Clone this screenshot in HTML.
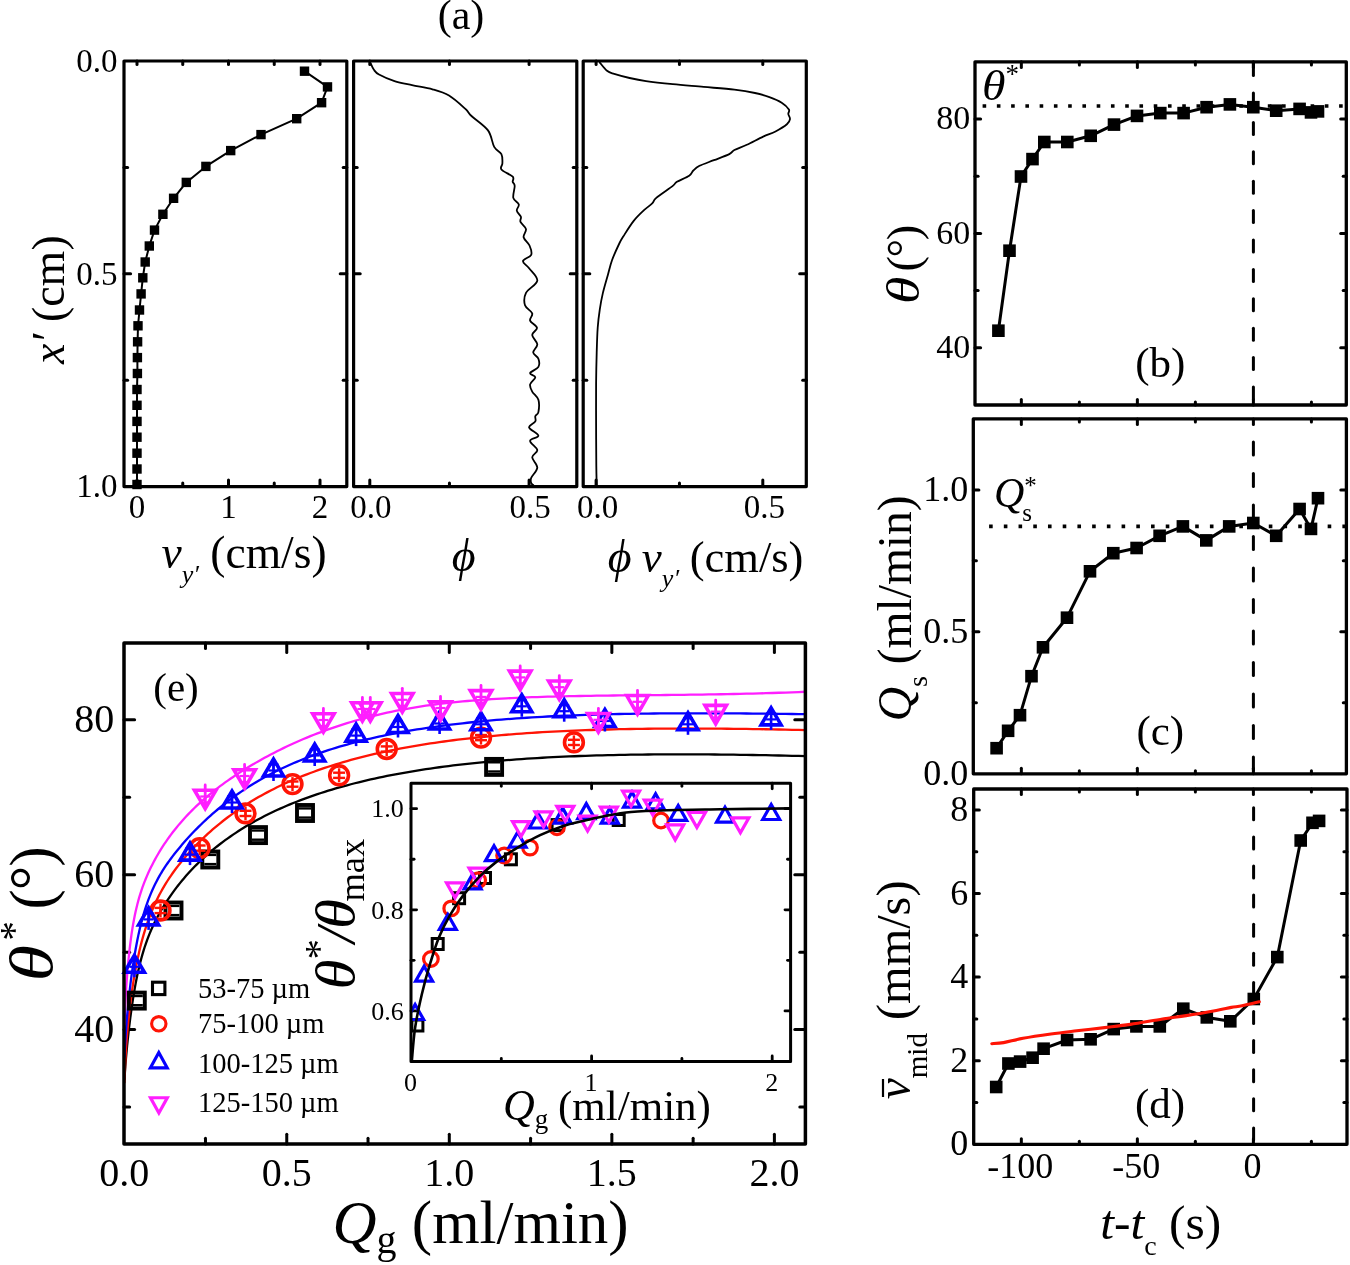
<!DOCTYPE html>
<html><head><meta charset="utf-8"><style>
html,body{margin:0;padding:0;background:#fff;width:1350px;height:1265px;overflow:hidden}
svg{display:block;will-change:transform}
text{font-family:"Liberation Serif",serif;fill:#000}
</style></head><body>
<svg width="1350" height="1265" viewBox="0 0 1350 1265" font-family="Liberation Serif">
<rect width="1350" height="1265" fill="#fff"/>
<line x1="124.00" y1="167.40" x2="127.60" y2="167.40" stroke="#000" stroke-width="3.0" stroke-linecap="round"/>
<line x1="346.80" y1="167.40" x2="343.20" y2="167.40" stroke="#000" stroke-width="3.0" stroke-linecap="round"/>
<line x1="124.00" y1="273.80" x2="130.60" y2="273.80" stroke="#000" stroke-width="3.0" stroke-linecap="round"/>
<line x1="346.80" y1="273.80" x2="340.20" y2="273.80" stroke="#000" stroke-width="3.0" stroke-linecap="round"/>
<line x1="124.00" y1="380.20" x2="127.60" y2="380.20" stroke="#000" stroke-width="3.0" stroke-linecap="round"/>
<line x1="346.80" y1="380.20" x2="343.20" y2="380.20" stroke="#000" stroke-width="3.0" stroke-linecap="round"/>
<line x1="353.60" y1="167.40" x2="357.20" y2="167.40" stroke="#000" stroke-width="3.0" stroke-linecap="round"/>
<line x1="576.80" y1="167.40" x2="573.20" y2="167.40" stroke="#000" stroke-width="3.0" stroke-linecap="round"/>
<line x1="353.60" y1="273.80" x2="360.20" y2="273.80" stroke="#000" stroke-width="3.0" stroke-linecap="round"/>
<line x1="576.80" y1="273.80" x2="570.20" y2="273.80" stroke="#000" stroke-width="3.0" stroke-linecap="round"/>
<line x1="353.60" y1="380.20" x2="357.20" y2="380.20" stroke="#000" stroke-width="3.0" stroke-linecap="round"/>
<line x1="576.80" y1="380.20" x2="573.20" y2="380.20" stroke="#000" stroke-width="3.0" stroke-linecap="round"/>
<line x1="583.20" y1="167.40" x2="586.80" y2="167.40" stroke="#000" stroke-width="3.0" stroke-linecap="round"/>
<line x1="806.30" y1="167.40" x2="802.70" y2="167.40" stroke="#000" stroke-width="3.0" stroke-linecap="round"/>
<line x1="583.20" y1="273.80" x2="589.80" y2="273.80" stroke="#000" stroke-width="3.0" stroke-linecap="round"/>
<line x1="806.30" y1="273.80" x2="799.70" y2="273.80" stroke="#000" stroke-width="3.0" stroke-linecap="round"/>
<line x1="583.20" y1="380.20" x2="586.80" y2="380.20" stroke="#000" stroke-width="3.0" stroke-linecap="round"/>
<line x1="806.30" y1="380.20" x2="802.70" y2="380.20" stroke="#000" stroke-width="3.0" stroke-linecap="round"/>
<line x1="137.00" y1="61.00" x2="137.00" y2="64.60" stroke="#000" stroke-width="3.0" stroke-linecap="round"/>
<line x1="137.00" y1="486.60" x2="137.00" y2="480.00" stroke="#000" stroke-width="3.0" stroke-linecap="round"/>
<line x1="182.75" y1="61.00" x2="182.75" y2="64.60" stroke="#000" stroke-width="3.0" stroke-linecap="round"/>
<line x1="182.75" y1="486.60" x2="182.75" y2="483.00" stroke="#000" stroke-width="3.0" stroke-linecap="round"/>
<line x1="228.50" y1="61.00" x2="228.50" y2="64.60" stroke="#000" stroke-width="3.0" stroke-linecap="round"/>
<line x1="228.50" y1="486.60" x2="228.50" y2="480.00" stroke="#000" stroke-width="3.0" stroke-linecap="round"/>
<line x1="274.25" y1="61.00" x2="274.25" y2="64.60" stroke="#000" stroke-width="3.0" stroke-linecap="round"/>
<line x1="274.25" y1="486.60" x2="274.25" y2="483.00" stroke="#000" stroke-width="3.0" stroke-linecap="round"/>
<line x1="320.00" y1="61.00" x2="320.00" y2="64.60" stroke="#000" stroke-width="3.0" stroke-linecap="round"/>
<line x1="320.00" y1="486.60" x2="320.00" y2="480.00" stroke="#000" stroke-width="3.0" stroke-linecap="round"/>
<line x1="369.80" y1="61.00" x2="369.80" y2="64.60" stroke="#000" stroke-width="3.0" stroke-linecap="round"/>
<line x1="369.80" y1="486.60" x2="369.80" y2="480.00" stroke="#000" stroke-width="3.0" stroke-linecap="round"/>
<line x1="449.45" y1="61.00" x2="449.45" y2="64.60" stroke="#000" stroke-width="3.0" stroke-linecap="round"/>
<line x1="449.45" y1="486.60" x2="449.45" y2="483.00" stroke="#000" stroke-width="3.0" stroke-linecap="round"/>
<line x1="529.10" y1="61.00" x2="529.10" y2="64.60" stroke="#000" stroke-width="3.0" stroke-linecap="round"/>
<line x1="529.10" y1="486.60" x2="529.10" y2="480.00" stroke="#000" stroke-width="3.0" stroke-linecap="round"/>
<line x1="596.10" y1="61.00" x2="596.10" y2="64.60" stroke="#000" stroke-width="3.0" stroke-linecap="round"/>
<line x1="596.10" y1="486.60" x2="596.10" y2="480.00" stroke="#000" stroke-width="3.0" stroke-linecap="round"/>
<line x1="679.45" y1="61.00" x2="679.45" y2="64.60" stroke="#000" stroke-width="3.0" stroke-linecap="round"/>
<line x1="679.45" y1="486.60" x2="679.45" y2="483.00" stroke="#000" stroke-width="3.0" stroke-linecap="round"/>
<line x1="762.80" y1="61.00" x2="762.80" y2="64.60" stroke="#000" stroke-width="3.0" stroke-linecap="round"/>
<line x1="762.80" y1="486.60" x2="762.80" y2="480.00" stroke="#000" stroke-width="3.0" stroke-linecap="round"/>
<rect x="124.00" y="61.00" width="222.80" height="425.60" fill="none" stroke="#000" stroke-width="3.2" stroke-linejoin="round"/>
<rect x="353.60" y="61.00" width="223.20" height="425.60" fill="none" stroke="#000" stroke-width="3.2" stroke-linejoin="round"/>
<rect x="583.20" y="61.00" width="223.10" height="425.60" fill="none" stroke="#000" stroke-width="3.2" stroke-linejoin="round"/>
<text x="117.50" y="71.84" font-size="33" text-anchor="end"  >0.0</text>
<text x="117.50" y="284.64" font-size="33" text-anchor="end"  >0.5</text>
<text x="117.50" y="497.44" font-size="33" text-anchor="end"  >1.0</text>
<text x="137.00" y="518.30" font-size="33" text-anchor="middle"  >0</text>
<text x="228.50" y="518.30" font-size="33" text-anchor="middle"  >1</text>
<text x="320.00" y="518.30" font-size="33" text-anchor="middle"  >2</text>
<text x="370.80" y="518.30" font-size="33" text-anchor="middle"  >0.0</text>
<text x="597.60" y="518.30" font-size="33" text-anchor="middle"  >0.0</text>
<text x="530.10" y="518.30" font-size="33" text-anchor="middle"  >0.5</text>
<text x="764.30" y="518.30" font-size="33" text-anchor="middle"  >0.5</text>
<text x="461.00" y="28.50" font-size="42" text-anchor="middle"  >(a)</text>
<text x="161.5" y="567.5" font-size="45.5"><tspan font-style="italic">v</tspan><tspan font-size="26" font-style="italic" dy="15">y′</tspan><tspan dy="-15"> (cm/s)</tspan></text>
<text x="451.8" y="570.9" font-size="46" font-style="italic">ϕ</text>
<text x="607.8" y="572" font-size="46"><tspan font-style="italic">ϕ</tspan><tspan font-size="45" font-style="italic" dx="-1"> v</tspan><tspan font-size="26" font-style="italic" dy="15">y′</tspan><tspan dy="-15" font-size="44.5" dx="-0.5"> (cm/s)</tspan></text>
<text transform="translate(64.3,299.7) rotate(-90)" font-size="46" text-anchor="middle"><tspan font-style="italic">x′</tspan> (cm)</text>
<polyline points="304.50,71.20 327.50,86.90 321.60,102.70 296.70,118.70 261.00,134.60 230.70,150.60 205.90,166.40 186.30,182.40 173.60,198.30 162.90,214.30 154.50,230.10 149.30,246.00 145.20,262.00 142.80,277.80 141.10,293.90 139.50,310.00 138.00,325.80 137.60,341.80 137.40,357.60 137.40,373.50 137.00,389.50 137.00,405.30 137.00,421.40 137.00,437.20 137.00,453.20 137.00,469.00 137.00,484.50" fill="none" stroke="#000" stroke-width="2.0" stroke-linejoin="round" stroke-linecap="round" />
<rect x="299.80" y="66.50" width="9.40" height="9.40" fill="#000"/>
<rect x="322.80" y="82.20" width="9.40" height="9.40" fill="#000"/>
<rect x="316.90" y="98.00" width="9.40" height="9.40" fill="#000"/>
<rect x="292.00" y="114.00" width="9.40" height="9.40" fill="#000"/>
<rect x="256.30" y="129.90" width="9.40" height="9.40" fill="#000"/>
<rect x="226.00" y="145.90" width="9.40" height="9.40" fill="#000"/>
<rect x="201.20" y="161.70" width="9.40" height="9.40" fill="#000"/>
<rect x="181.60" y="177.70" width="9.40" height="9.40" fill="#000"/>
<rect x="168.90" y="193.60" width="9.40" height="9.40" fill="#000"/>
<rect x="158.20" y="209.60" width="9.40" height="9.40" fill="#000"/>
<rect x="149.80" y="225.40" width="9.40" height="9.40" fill="#000"/>
<rect x="144.60" y="241.30" width="9.40" height="9.40" fill="#000"/>
<rect x="140.50" y="257.30" width="9.40" height="9.40" fill="#000"/>
<rect x="138.10" y="273.10" width="9.40" height="9.40" fill="#000"/>
<rect x="136.40" y="289.20" width="9.40" height="9.40" fill="#000"/>
<rect x="134.80" y="305.30" width="9.40" height="9.40" fill="#000"/>
<rect x="133.30" y="321.10" width="9.40" height="9.40" fill="#000"/>
<rect x="132.90" y="337.10" width="9.40" height="9.40" fill="#000"/>
<rect x="132.70" y="352.90" width="9.40" height="9.40" fill="#000"/>
<rect x="132.70" y="368.80" width="9.40" height="9.40" fill="#000"/>
<rect x="132.30" y="384.80" width="9.40" height="9.40" fill="#000"/>
<rect x="132.30" y="400.60" width="9.40" height="9.40" fill="#000"/>
<rect x="132.30" y="416.70" width="9.40" height="9.40" fill="#000"/>
<rect x="132.30" y="432.50" width="9.40" height="9.40" fill="#000"/>
<rect x="132.30" y="448.50" width="9.40" height="9.40" fill="#000"/>
<rect x="132.30" y="464.30" width="9.40" height="9.40" fill="#000"/>
<rect x="132.30" y="479.80" width="9.40" height="9.40" fill="#000"/>
<path d="M370.80,63.60 C371.32,64.63 372.53,67.98 373.90,69.80 C375.27,71.62 375.57,72.62 379.00,74.50 C382.43,76.38 389.00,79.32 394.50,81.10 C400.00,82.88 405.67,83.83 412.00,85.20 C418.33,86.57 426.33,87.58 432.50,89.30 C438.67,91.02 443.52,92.23 449.00,95.50 C454.48,98.77 461.65,105.48 465.40,108.90 C469.15,112.32 467.73,112.42 471.50,116.00 C475.27,119.58 484.22,125.25 488.00,130.40 C491.78,135.55 491.97,142.95 494.20,146.90 C496.43,150.85 500.03,151.37 501.40,154.10 C502.77,156.83 502.40,160.73 502.40,163.30 C502.40,165.87 499.68,167.27 501.40,169.50 C503.12,171.73 510.82,174.65 512.70,176.70 C514.58,178.75 512.37,180.25 512.70,181.80 C513.03,183.35 514.60,183.32 514.70,186.00 C514.80,188.68 512.62,194.83 513.30,197.90 C513.98,200.97 518.22,202.28 518.80,204.40 C519.38,206.52 516.45,208.53 516.80,210.60 C517.15,212.67 520.28,214.92 520.90,216.80 C521.52,218.68 519.65,219.85 520.50,221.90 C521.35,223.95 525.48,226.53 526.00,229.10 C526.52,231.67 523.02,234.57 523.60,237.30 C524.18,240.03 528.23,242.58 529.50,245.50 C530.77,248.42 532.28,252.22 531.20,254.80 C530.12,257.38 523.35,258.77 523.00,261.00 C522.65,263.23 526.72,264.93 529.10,268.20 C531.48,271.47 537.82,276.48 537.30,280.60 C536.78,284.72 528.05,288.80 526.00,292.90 C523.95,297.00 523.97,301.78 525.00,305.20 C526.03,308.62 531.35,310.83 532.20,313.40 C533.05,315.97 529.30,318.20 530.10,320.60 C530.90,323.00 536.65,325.40 537.00,327.80 C537.35,330.20 532.15,332.25 532.20,335.00 C532.25,337.75 537.13,341.38 537.30,344.30 C537.47,347.22 533.02,350.10 533.20,352.50 C533.38,354.90 537.53,356.30 538.40,358.70 C539.27,361.10 539.78,364.50 538.40,366.90 C537.02,369.30 530.62,371.38 530.10,373.10 C529.58,374.82 535.30,375.32 535.30,377.20 C535.30,379.08 530.62,382.00 530.10,384.40 C529.58,386.80 530.82,389.03 532.20,391.60 C533.58,394.17 537.37,396.38 538.40,399.80 C539.43,403.22 538.92,409.37 538.40,412.10 C537.88,414.83 535.82,414.65 535.30,416.20 C534.78,417.75 536.33,419.52 535.30,421.40 C534.27,423.28 528.58,425.12 529.10,427.50 C529.62,429.88 538.23,433.47 538.40,435.70 C538.57,437.93 530.28,438.50 530.10,440.90 C529.92,443.30 536.95,447.37 537.30,450.10 C537.65,452.83 532.20,454.38 532.20,457.30 C532.20,460.22 537.47,464.17 537.30,467.60 C537.13,471.03 532.22,475.33 531.20,477.90 C530.18,480.47 530.87,481.82 531.20,483.00 C531.53,484.18 532.87,484.67 533.20,485.00" fill="none" stroke="#000" stroke-width="1.8" stroke-linejoin="round" stroke-linecap="round" />
<path d="M599.80,62.60 C601.00,63.97 604.60,68.92 607.00,70.80 C609.40,72.68 610.43,72.70 614.20,73.90 C617.97,75.10 624.30,76.80 629.60,78.00 C634.90,79.20 638.80,80.07 646.00,81.10 C653.20,82.13 663.20,83.23 672.80,84.20 C682.40,85.17 693.33,85.98 703.60,86.90 C713.87,87.82 725.83,88.68 734.40,89.70 C742.97,90.72 749.17,91.77 755.00,93.00 C760.83,94.23 764.95,95.48 769.40,97.10 C773.85,98.72 778.45,100.63 781.70,102.70 C784.95,104.77 787.80,107.62 788.90,109.50 C790.00,111.38 788.12,112.40 788.30,114.00 C788.48,115.60 790.23,117.38 790.00,119.10 C789.77,120.82 789.32,122.23 786.90,124.30 C784.48,126.37 779.45,129.45 775.50,131.50 C771.55,133.55 767.98,134.38 763.20,136.60 C758.42,138.82 751.60,142.57 746.80,144.80 C742.00,147.03 737.32,148.45 734.40,150.00 C731.48,151.55 732.72,152.40 729.30,154.10 C725.88,155.80 718.87,158.25 713.90,160.20 C708.93,162.15 702.93,164.08 699.50,165.80 C696.07,167.52 695.02,168.85 693.30,170.50 C691.58,172.15 691.93,173.82 689.20,175.70 C686.47,177.58 679.63,180.10 676.90,181.80 C674.17,183.50 676.23,183.22 672.80,185.90 C669.37,188.58 659.73,194.98 656.30,197.90 C652.87,200.82 654.25,201.35 652.20,203.40 C650.15,205.45 647.08,207.28 644.00,210.20 C640.92,213.12 637.13,216.55 633.70,220.90 C630.27,225.25 625.80,232.53 623.40,236.30 C621.00,240.07 621.18,239.55 619.30,243.50 C617.42,247.45 613.98,254.85 612.10,260.00 C610.22,265.15 609.53,268.92 608.00,274.40 C606.47,279.88 604.27,287.08 602.90,292.90 C601.53,298.72 600.67,303.48 599.80,309.30 C598.93,315.12 598.22,320.60 597.70,327.80 C597.18,335.00 596.97,343.25 596.70,352.50 C596.43,361.75 596.20,371.32 596.10,383.30 C596.00,395.28 596.07,410.70 596.10,424.40 C596.13,438.10 596.20,455.40 596.30,465.50 C596.40,475.60 596.63,481.75 596.70,485.00" fill="none" stroke="#000" stroke-width="1.8" stroke-linejoin="round" stroke-linecap="round" />
<line x1="1021.34" y1="61.80" x2="1021.34" y2="67.40" stroke="#000" stroke-width="3.0" stroke-linecap="round"/>
<line x1="1021.34" y1="405.00" x2="1021.34" y2="399.40" stroke="#000" stroke-width="3.0" stroke-linecap="round"/>
<line x1="1079.36" y1="61.80" x2="1079.36" y2="64.90" stroke="#000" stroke-width="3.0" stroke-linecap="round"/>
<line x1="1079.36" y1="405.00" x2="1079.36" y2="401.90" stroke="#000" stroke-width="3.0" stroke-linecap="round"/>
<line x1="1137.37" y1="61.80" x2="1137.37" y2="67.40" stroke="#000" stroke-width="3.0" stroke-linecap="round"/>
<line x1="1137.37" y1="405.00" x2="1137.37" y2="399.40" stroke="#000" stroke-width="3.0" stroke-linecap="round"/>
<line x1="1195.38" y1="61.80" x2="1195.38" y2="64.90" stroke="#000" stroke-width="3.0" stroke-linecap="round"/>
<line x1="1195.38" y1="405.00" x2="1195.38" y2="401.90" stroke="#000" stroke-width="3.0" stroke-linecap="round"/>
<line x1="1253.40" y1="61.80" x2="1253.40" y2="67.40" stroke="#000" stroke-width="3.0" stroke-linecap="round"/>
<line x1="1253.40" y1="405.00" x2="1253.40" y2="399.40" stroke="#000" stroke-width="3.0" stroke-linecap="round"/>
<line x1="1311.42" y1="61.80" x2="1311.42" y2="64.90" stroke="#000" stroke-width="3.0" stroke-linecap="round"/>
<line x1="1311.42" y1="405.00" x2="1311.42" y2="401.90" stroke="#000" stroke-width="3.0" stroke-linecap="round"/>
<line x1="975.00" y1="347.80" x2="980.60" y2="347.80" stroke="#000" stroke-width="3.0" stroke-linecap="round"/>
<line x1="1346.30" y1="347.80" x2="1340.70" y2="347.80" stroke="#000" stroke-width="3.0" stroke-linecap="round"/>
<line x1="975.00" y1="290.60" x2="978.10" y2="290.60" stroke="#000" stroke-width="3.0" stroke-linecap="round"/>
<line x1="1346.30" y1="290.60" x2="1343.20" y2="290.60" stroke="#000" stroke-width="3.0" stroke-linecap="round"/>
<line x1="975.00" y1="233.40" x2="980.60" y2="233.40" stroke="#000" stroke-width="3.0" stroke-linecap="round"/>
<line x1="1346.30" y1="233.40" x2="1340.70" y2="233.40" stroke="#000" stroke-width="3.0" stroke-linecap="round"/>
<line x1="975.00" y1="176.20" x2="978.10" y2="176.20" stroke="#000" stroke-width="3.0" stroke-linecap="round"/>
<line x1="1346.30" y1="176.20" x2="1343.20" y2="176.20" stroke="#000" stroke-width="3.0" stroke-linecap="round"/>
<line x1="975.00" y1="119.00" x2="980.60" y2="119.00" stroke="#000" stroke-width="3.0" stroke-linecap="round"/>
<line x1="1346.30" y1="119.00" x2="1340.70" y2="119.00" stroke="#000" stroke-width="3.0" stroke-linecap="round"/>
<line x1="982.60" y1="106.0" x2="1346" y2="106.0" stroke="#000" stroke-width="3.6" stroke-dasharray="3.6 10.66"/>
<line x1="1253.4" y1="63.60" x2="1253.4" y2="75.60" stroke="#000" stroke-width="3.0" stroke-linecap="round"/>
<line x1="1253.4" y1="93.00" x2="1253.4" y2="105.00" stroke="#000" stroke-width="3.0" stroke-linecap="round"/>
<line x1="1253.4" y1="122.40" x2="1253.4" y2="134.40" stroke="#000" stroke-width="3.0" stroke-linecap="round"/>
<line x1="1253.4" y1="151.80" x2="1253.4" y2="163.80" stroke="#000" stroke-width="3.0" stroke-linecap="round"/>
<line x1="1253.4" y1="181.20" x2="1253.4" y2="193.20" stroke="#000" stroke-width="3.0" stroke-linecap="round"/>
<line x1="1253.4" y1="210.60" x2="1253.4" y2="222.60" stroke="#000" stroke-width="3.0" stroke-linecap="round"/>
<line x1="1253.4" y1="240.00" x2="1253.4" y2="252.00" stroke="#000" stroke-width="3.0" stroke-linecap="round"/>
<line x1="1253.4" y1="269.40" x2="1253.4" y2="281.40" stroke="#000" stroke-width="3.0" stroke-linecap="round"/>
<line x1="1253.4" y1="298.80" x2="1253.4" y2="310.80" stroke="#000" stroke-width="3.0" stroke-linecap="round"/>
<line x1="1253.4" y1="328.20" x2="1253.4" y2="340.20" stroke="#000" stroke-width="3.0" stroke-linecap="round"/>
<line x1="1253.4" y1="357.60" x2="1253.4" y2="369.60" stroke="#000" stroke-width="3.0" stroke-linecap="round"/>
<line x1="1253.4" y1="387.00" x2="1253.4" y2="399.00" stroke="#000" stroke-width="3.0" stroke-linecap="round"/>
<polyline points="998.40,330.70 1009.50,250.70 1021.00,176.50 1032.50,159.10 1044.30,142.00 1067.30,142.00 1090.70,135.80 1114.00,124.60 1137.00,115.90 1160.30,113.10 1183.60,113.10 1206.60,107.20 1229.90,104.40 1253.30,107.20 1276.20,110.70 1299.60,108.90 1311.00,112.40 1318.00,111.40" fill="none" stroke="#000" stroke-width="3.0" stroke-linejoin="round" stroke-linecap="round" />
<rect x="992.10" y="324.40" width="12.60" height="12.60" fill="#000"/>
<rect x="1003.20" y="244.40" width="12.60" height="12.60" fill="#000"/>
<rect x="1014.70" y="170.20" width="12.60" height="12.60" fill="#000"/>
<rect x="1026.20" y="152.80" width="12.60" height="12.60" fill="#000"/>
<rect x="1038.00" y="135.70" width="12.60" height="12.60" fill="#000"/>
<rect x="1061.00" y="135.70" width="12.60" height="12.60" fill="#000"/>
<rect x="1084.40" y="129.50" width="12.60" height="12.60" fill="#000"/>
<rect x="1107.70" y="118.30" width="12.60" height="12.60" fill="#000"/>
<rect x="1130.70" y="109.60" width="12.60" height="12.60" fill="#000"/>
<rect x="1154.00" y="106.80" width="12.60" height="12.60" fill="#000"/>
<rect x="1177.30" y="106.80" width="12.60" height="12.60" fill="#000"/>
<rect x="1200.30" y="100.90" width="12.60" height="12.60" fill="#000"/>
<rect x="1223.60" y="98.10" width="12.60" height="12.60" fill="#000"/>
<rect x="1247.00" y="100.90" width="12.60" height="12.60" fill="#000"/>
<rect x="1269.90" y="104.40" width="12.60" height="12.60" fill="#000"/>
<rect x="1293.30" y="102.60" width="12.60" height="12.60" fill="#000"/>
<rect x="1304.70" y="106.10" width="12.60" height="12.60" fill="#000"/>
<rect x="1311.70" y="105.10" width="12.60" height="12.60" fill="#000"/>
<rect x="975.00" y="61.80" width="371.30" height="343.20" fill="none" stroke="#000" stroke-width="3.3" stroke-linejoin="round"/>
<text x="970.30" y="358.28" font-size="34" text-anchor="end"  >40</text>
<text x="970.30" y="243.88" font-size="34" text-anchor="end"  >60</text>
<text x="970.30" y="129.47" font-size="34" text-anchor="end"  >80</text>
<text transform="translate(982.00,100.40) scale(1.12,1)" font-size="42.7" text-anchor="start" font-style="italic" >θ</text>
<text x="1005.50" y="83.30" font-size="27" text-anchor="start"  >*</text>
<text x="1160.30" y="376.50" font-size="43" text-anchor="middle"  >(b)</text>
<text transform="translate(918.70,303.90) rotate(-90) scale(1.2,1)" font-size="46.5" text-anchor="start" font-style="italic" >θ</text>
<text transform="translate(918.70,226.30) rotate(-90)" font-size="46.5" text-anchor="end" letter-spacing="-1.5">(°)</text>
<line x1="1021.34" y1="418.90" x2="1021.34" y2="424.50" stroke="#000" stroke-width="3.0" stroke-linecap="round"/>
<line x1="1021.34" y1="773.80" x2="1021.34" y2="768.20" stroke="#000" stroke-width="3.0" stroke-linecap="round"/>
<line x1="1079.36" y1="418.90" x2="1079.36" y2="422.00" stroke="#000" stroke-width="3.0" stroke-linecap="round"/>
<line x1="1079.36" y1="773.80" x2="1079.36" y2="770.70" stroke="#000" stroke-width="3.0" stroke-linecap="round"/>
<line x1="1137.37" y1="418.90" x2="1137.37" y2="424.50" stroke="#000" stroke-width="3.0" stroke-linecap="round"/>
<line x1="1137.37" y1="773.80" x2="1137.37" y2="768.20" stroke="#000" stroke-width="3.0" stroke-linecap="round"/>
<line x1="1195.38" y1="418.90" x2="1195.38" y2="422.00" stroke="#000" stroke-width="3.0" stroke-linecap="round"/>
<line x1="1195.38" y1="773.80" x2="1195.38" y2="770.70" stroke="#000" stroke-width="3.0" stroke-linecap="round"/>
<line x1="1253.40" y1="418.90" x2="1253.40" y2="424.50" stroke="#000" stroke-width="3.0" stroke-linecap="round"/>
<line x1="1253.40" y1="773.80" x2="1253.40" y2="768.20" stroke="#000" stroke-width="3.0" stroke-linecap="round"/>
<line x1="1311.42" y1="418.90" x2="1311.42" y2="422.00" stroke="#000" stroke-width="3.0" stroke-linecap="round"/>
<line x1="1311.42" y1="773.80" x2="1311.42" y2="770.70" stroke="#000" stroke-width="3.0" stroke-linecap="round"/>
<line x1="973.30" y1="702.82" x2="976.40" y2="702.82" stroke="#000" stroke-width="3.0" stroke-linecap="round"/>
<line x1="1346.40" y1="702.82" x2="1343.30" y2="702.82" stroke="#000" stroke-width="3.0" stroke-linecap="round"/>
<line x1="973.30" y1="631.84" x2="978.90" y2="631.84" stroke="#000" stroke-width="3.0" stroke-linecap="round"/>
<line x1="1346.40" y1="631.84" x2="1340.80" y2="631.84" stroke="#000" stroke-width="3.0" stroke-linecap="round"/>
<line x1="973.30" y1="560.86" x2="976.40" y2="560.86" stroke="#000" stroke-width="3.0" stroke-linecap="round"/>
<line x1="1346.40" y1="560.86" x2="1343.30" y2="560.86" stroke="#000" stroke-width="3.0" stroke-linecap="round"/>
<line x1="973.30" y1="489.88" x2="978.90" y2="489.88" stroke="#000" stroke-width="3.0" stroke-linecap="round"/>
<line x1="1346.40" y1="489.88" x2="1340.80" y2="489.88" stroke="#000" stroke-width="3.0" stroke-linecap="round"/>
<line x1="989.10" y1="526.4" x2="1346" y2="526.4" stroke="#000" stroke-width="3.6" stroke-dasharray="3.6 11.12"/>
<line x1="1253.4" y1="441.90" x2="1253.4" y2="454.90" stroke="#000" stroke-width="3.0" stroke-linecap="round"/>
<line x1="1253.4" y1="473.40" x2="1253.4" y2="486.40" stroke="#000" stroke-width="3.0" stroke-linecap="round"/>
<line x1="1253.4" y1="504.90" x2="1253.4" y2="517.90" stroke="#000" stroke-width="3.0" stroke-linecap="round"/>
<line x1="1253.4" y1="536.40" x2="1253.4" y2="549.40" stroke="#000" stroke-width="3.0" stroke-linecap="round"/>
<line x1="1253.4" y1="567.90" x2="1253.4" y2="580.90" stroke="#000" stroke-width="3.0" stroke-linecap="round"/>
<line x1="1253.4" y1="599.40" x2="1253.4" y2="612.40" stroke="#000" stroke-width="3.0" stroke-linecap="round"/>
<line x1="1253.4" y1="630.90" x2="1253.4" y2="643.90" stroke="#000" stroke-width="3.0" stroke-linecap="round"/>
<line x1="1253.4" y1="662.40" x2="1253.4" y2="675.40" stroke="#000" stroke-width="3.0" stroke-linecap="round"/>
<line x1="1253.4" y1="693.90" x2="1253.4" y2="706.90" stroke="#000" stroke-width="3.0" stroke-linecap="round"/>
<line x1="1253.4" y1="725.40" x2="1253.4" y2="738.40" stroke="#000" stroke-width="3.0" stroke-linecap="round"/>
<line x1="1253.4" y1="756.90" x2="1253.4" y2="769.90" stroke="#000" stroke-width="3.0" stroke-linecap="round"/>
<polyline points="996.60,748.20 1008.10,730.80 1020.00,715.20 1031.50,676.20 1043.00,647.30 1067.00,617.70 1090.00,571.30 1113.30,553.20 1136.60,548.00 1159.60,535.80 1182.90,526.40 1206.30,540.40 1229.20,526.40 1253.30,523.00 1276.20,535.80 1299.60,509.00 1311.00,528.90 1318.00,498.20" fill="none" stroke="#000" stroke-width="3.0" stroke-linejoin="round" stroke-linecap="round" />
<rect x="990.30" y="741.90" width="12.60" height="12.60" fill="#000"/>
<rect x="1001.80" y="724.50" width="12.60" height="12.60" fill="#000"/>
<rect x="1013.70" y="708.90" width="12.60" height="12.60" fill="#000"/>
<rect x="1025.20" y="669.90" width="12.60" height="12.60" fill="#000"/>
<rect x="1036.70" y="641.00" width="12.60" height="12.60" fill="#000"/>
<rect x="1060.70" y="611.40" width="12.60" height="12.60" fill="#000"/>
<rect x="1083.70" y="565.00" width="12.60" height="12.60" fill="#000"/>
<rect x="1107.00" y="546.90" width="12.60" height="12.60" fill="#000"/>
<rect x="1130.30" y="541.70" width="12.60" height="12.60" fill="#000"/>
<rect x="1153.30" y="529.50" width="12.60" height="12.60" fill="#000"/>
<rect x="1176.60" y="520.10" width="12.60" height="12.60" fill="#000"/>
<rect x="1200.00" y="534.10" width="12.60" height="12.60" fill="#000"/>
<rect x="1222.90" y="520.10" width="12.60" height="12.60" fill="#000"/>
<rect x="1247.00" y="516.70" width="12.60" height="12.60" fill="#000"/>
<rect x="1269.90" y="529.50" width="12.60" height="12.60" fill="#000"/>
<rect x="1293.30" y="502.70" width="12.60" height="12.60" fill="#000"/>
<rect x="1304.70" y="522.60" width="12.60" height="12.60" fill="#000"/>
<rect x="1311.70" y="491.90" width="12.60" height="12.60" fill="#000"/>
<rect x="973.30" y="418.90" width="373.10" height="354.90" fill="none" stroke="#000" stroke-width="3.3" stroke-linejoin="round"/>
<text x="968.30" y="784.95" font-size="36" text-anchor="end"  >0.0</text>
<text x="968.30" y="642.99" font-size="36" text-anchor="end"  >0.5</text>
<text x="968.30" y="501.03" font-size="36" text-anchor="end"  >1.0</text>
<text x="994" y="507.3" font-size="42" font-style="italic">Q</text>
<text x="1024.20" y="494.30" font-size="25" text-anchor="start"  >*</text>
<text x="1022.30" y="520.50" font-size="25" text-anchor="start"  >s</text>
<text x="1160.30" y="745.00" font-size="43" text-anchor="middle"  >(c)</text>
<text transform="translate(910.6,495.4) rotate(-90)" font-size="47.5" text-anchor="end"><tspan font-style="italic">Q</tspan><tspan font-size="28" dy="16.7">s</tspan><tspan dy="-16.7"> (ml/min)</tspan></text>
<line x1="1021.34" y1="789.00" x2="1021.34" y2="794.60" stroke="#000" stroke-width="3.0" stroke-linecap="round"/>
<line x1="1021.34" y1="1144.30" x2="1021.34" y2="1138.70" stroke="#000" stroke-width="3.0" stroke-linecap="round"/>
<line x1="1079.36" y1="789.00" x2="1079.36" y2="792.10" stroke="#000" stroke-width="3.0" stroke-linecap="round"/>
<line x1="1079.36" y1="1144.30" x2="1079.36" y2="1141.20" stroke="#000" stroke-width="3.0" stroke-linecap="round"/>
<line x1="1137.37" y1="789.00" x2="1137.37" y2="794.60" stroke="#000" stroke-width="3.0" stroke-linecap="round"/>
<line x1="1137.37" y1="1144.30" x2="1137.37" y2="1138.70" stroke="#000" stroke-width="3.0" stroke-linecap="round"/>
<line x1="1195.38" y1="789.00" x2="1195.38" y2="792.10" stroke="#000" stroke-width="3.0" stroke-linecap="round"/>
<line x1="1195.38" y1="1144.30" x2="1195.38" y2="1141.20" stroke="#000" stroke-width="3.0" stroke-linecap="round"/>
<line x1="1253.40" y1="789.00" x2="1253.40" y2="794.60" stroke="#000" stroke-width="3.0" stroke-linecap="round"/>
<line x1="1253.40" y1="1144.30" x2="1253.40" y2="1138.70" stroke="#000" stroke-width="3.0" stroke-linecap="round"/>
<line x1="1311.42" y1="789.00" x2="1311.42" y2="792.10" stroke="#000" stroke-width="3.0" stroke-linecap="round"/>
<line x1="1311.42" y1="1144.30" x2="1311.42" y2="1141.20" stroke="#000" stroke-width="3.0" stroke-linecap="round"/>
<line x1="973.70" y1="1102.50" x2="976.80" y2="1102.50" stroke="#000" stroke-width="3.0" stroke-linecap="round"/>
<line x1="1347.00" y1="1102.50" x2="1343.90" y2="1102.50" stroke="#000" stroke-width="3.0" stroke-linecap="round"/>
<line x1="973.70" y1="1060.70" x2="979.30" y2="1060.70" stroke="#000" stroke-width="3.0" stroke-linecap="round"/>
<line x1="1347.00" y1="1060.70" x2="1341.40" y2="1060.70" stroke="#000" stroke-width="3.0" stroke-linecap="round"/>
<line x1="973.70" y1="1018.90" x2="976.80" y2="1018.90" stroke="#000" stroke-width="3.0" stroke-linecap="round"/>
<line x1="1347.00" y1="1018.90" x2="1343.90" y2="1018.90" stroke="#000" stroke-width="3.0" stroke-linecap="round"/>
<line x1="973.70" y1="977.10" x2="979.30" y2="977.10" stroke="#000" stroke-width="3.0" stroke-linecap="round"/>
<line x1="1347.00" y1="977.10" x2="1341.40" y2="977.10" stroke="#000" stroke-width="3.0" stroke-linecap="round"/>
<line x1="973.70" y1="935.30" x2="976.80" y2="935.30" stroke="#000" stroke-width="3.0" stroke-linecap="round"/>
<line x1="1347.00" y1="935.30" x2="1343.90" y2="935.30" stroke="#000" stroke-width="3.0" stroke-linecap="round"/>
<line x1="973.70" y1="893.50" x2="979.30" y2="893.50" stroke="#000" stroke-width="3.0" stroke-linecap="round"/>
<line x1="1347.00" y1="893.50" x2="1341.40" y2="893.50" stroke="#000" stroke-width="3.0" stroke-linecap="round"/>
<line x1="973.70" y1="851.70" x2="976.80" y2="851.70" stroke="#000" stroke-width="3.0" stroke-linecap="round"/>
<line x1="1347.00" y1="851.70" x2="1343.90" y2="851.70" stroke="#000" stroke-width="3.0" stroke-linecap="round"/>
<line x1="973.70" y1="809.90" x2="979.30" y2="809.90" stroke="#000" stroke-width="3.0" stroke-linecap="round"/>
<line x1="1347.00" y1="809.90" x2="1341.40" y2="809.90" stroke="#000" stroke-width="3.0" stroke-linecap="round"/>
<line x1="1253.6" y1="807.80" x2="1253.6" y2="819.80" stroke="#000" stroke-width="3.0" stroke-linecap="round"/>
<line x1="1253.6" y1="836.90" x2="1253.6" y2="848.90" stroke="#000" stroke-width="3.0" stroke-linecap="round"/>
<line x1="1253.6" y1="866.00" x2="1253.6" y2="878.00" stroke="#000" stroke-width="3.0" stroke-linecap="round"/>
<line x1="1253.6" y1="895.10" x2="1253.6" y2="907.10" stroke="#000" stroke-width="3.0" stroke-linecap="round"/>
<line x1="1253.6" y1="924.20" x2="1253.6" y2="936.20" stroke="#000" stroke-width="3.0" stroke-linecap="round"/>
<line x1="1253.6" y1="953.30" x2="1253.6" y2="965.30" stroke="#000" stroke-width="3.0" stroke-linecap="round"/>
<line x1="1253.6" y1="982.40" x2="1253.6" y2="994.40" stroke="#000" stroke-width="3.0" stroke-linecap="round"/>
<line x1="1253.6" y1="1011.50" x2="1253.6" y2="1023.50" stroke="#000" stroke-width="3.0" stroke-linecap="round"/>
<line x1="1253.6" y1="1040.60" x2="1253.6" y2="1052.60" stroke="#000" stroke-width="3.0" stroke-linecap="round"/>
<line x1="1253.6" y1="1069.70" x2="1253.6" y2="1081.70" stroke="#000" stroke-width="3.0" stroke-linecap="round"/>
<line x1="1253.6" y1="1098.80" x2="1253.6" y2="1110.80" stroke="#000" stroke-width="3.0" stroke-linecap="round"/>
<line x1="1253.6" y1="1127.90" x2="1253.6" y2="1139.90" stroke="#000" stroke-width="3.0" stroke-linecap="round"/>
<polyline points="996.20,1087.00 1008.40,1063.50 1020.10,1061.60 1032.60,1057.70 1043.60,1048.70 1067.10,1040.00 1090.60,1039.30 1113.70,1029.10 1136.40,1026.40 1159.80,1026.40 1183.30,1008.70 1206.80,1017.40 1230.30,1021.30 1253.80,999.00 1277.30,957.10 1300.70,840.50 1312.50,822.80 1319.10,820.90" fill="none" stroke="#000" stroke-width="3.0" stroke-linejoin="round" stroke-linecap="round" />
<rect x="989.90" y="1080.70" width="12.60" height="12.60" fill="#000"/>
<rect x="1002.10" y="1057.20" width="12.60" height="12.60" fill="#000"/>
<rect x="1013.80" y="1055.30" width="12.60" height="12.60" fill="#000"/>
<rect x="1026.30" y="1051.40" width="12.60" height="12.60" fill="#000"/>
<rect x="1037.30" y="1042.40" width="12.60" height="12.60" fill="#000"/>
<rect x="1060.80" y="1033.70" width="12.60" height="12.60" fill="#000"/>
<rect x="1084.30" y="1033.00" width="12.60" height="12.60" fill="#000"/>
<rect x="1107.40" y="1022.80" width="12.60" height="12.60" fill="#000"/>
<rect x="1130.10" y="1020.10" width="12.60" height="12.60" fill="#000"/>
<rect x="1153.50" y="1020.10" width="12.60" height="12.60" fill="#000"/>
<rect x="1177.00" y="1002.40" width="12.60" height="12.60" fill="#000"/>
<rect x="1200.50" y="1011.10" width="12.60" height="12.60" fill="#000"/>
<rect x="1224.00" y="1015.00" width="12.60" height="12.60" fill="#000"/>
<rect x="1247.50" y="992.70" width="12.60" height="12.60" fill="#000"/>
<rect x="1271.00" y="950.80" width="12.60" height="12.60" fill="#000"/>
<rect x="1294.40" y="834.20" width="12.60" height="12.60" fill="#000"/>
<rect x="1306.20" y="816.50" width="12.60" height="12.60" fill="#000"/>
<rect x="1312.80" y="814.60" width="12.60" height="12.60" fill="#000"/>
<path d="M991.80,1043.70 C993.77,1043.52 998.40,1043.50 1003.60,1042.60 C1008.80,1041.70 1015.12,1039.73 1023.00,1038.30 C1030.88,1036.87 1041.95,1035.25 1050.90,1034.00 C1059.85,1032.75 1067.75,1031.87 1076.70,1030.80 C1085.65,1029.73 1095.65,1028.67 1104.60,1027.60 C1113.55,1026.53 1120.73,1025.83 1130.40,1024.40 C1140.07,1022.97 1153.30,1020.47 1162.60,1019.00 C1171.90,1017.53 1177.25,1017.03 1186.20,1015.60 C1195.15,1014.17 1208.78,1011.77 1216.30,1010.40 C1223.82,1009.03 1227.00,1008.17 1231.30,1007.40 C1235.60,1006.63 1237.43,1006.73 1242.10,1005.80 C1246.77,1004.87 1256.43,1002.47 1259.30,1001.80" fill="none" stroke="#ff1405" stroke-width="3.1" stroke-linejoin="round" stroke-linecap="round" />
<rect x="973.70" y="789.00" width="373.30" height="355.30" fill="none" stroke="#000" stroke-width="3.3" stroke-linejoin="round"/>
<text x="968.20" y="1155.45" font-size="36" text-anchor="end"  >0</text>
<text x="968.20" y="1071.85" font-size="36" text-anchor="end"  >2</text>
<text x="968.20" y="988.25" font-size="36" text-anchor="end"  >4</text>
<text x="968.20" y="904.65" font-size="36" text-anchor="end"  >6</text>
<text x="968.20" y="821.05" font-size="36" text-anchor="end"  >8</text>
<text x="1020.34" y="1178.10" font-size="36" text-anchor="middle"  >-100</text>
<text x="1136.37" y="1178.10" font-size="36" text-anchor="middle"  >-50</text>
<text x="1252.40" y="1178.10" font-size="36" text-anchor="middle"  >0</text>
<text x="1160.00" y="1118.00" font-size="43" text-anchor="middle"  >(d)</text>
<text x="1100.2" y="1238.6" font-size="49.5"><tspan font-style="italic">t</tspan>-<tspan font-style="italic">t</tspan><tspan font-size="28" dy="16.5">c</tspan><tspan dy="-16.5"> (s)</tspan></text>
<text transform="translate(909.8,880.5) rotate(-90)" font-size="47.5" text-anchor="end"><tspan font-style="italic">v</tspan><tspan font-size="29" dy="17.3">mid</tspan><tspan dy="-17.3" dx="1" font-size="48.3"> (mm/s)</tspan></text>
<line x1="883.00" y1="1079.00" x2="883.00" y2="1097.00" stroke="#000" stroke-width="2.2" />
<line x1="205.48" y1="643.00" x2="205.48" y2="648.60" stroke="#000" stroke-width="3.0" stroke-linecap="round"/>
<line x1="205.48" y1="1143.90" x2="205.48" y2="1138.30" stroke="#000" stroke-width="3.0" stroke-linecap="round"/>
<line x1="286.75" y1="643.00" x2="286.75" y2="652.60" stroke="#000" stroke-width="3.0" stroke-linecap="round"/>
<line x1="286.75" y1="1143.90" x2="286.75" y2="1134.30" stroke="#000" stroke-width="3.0" stroke-linecap="round"/>
<line x1="368.03" y1="643.00" x2="368.03" y2="648.60" stroke="#000" stroke-width="3.0" stroke-linecap="round"/>
<line x1="368.03" y1="1143.90" x2="368.03" y2="1138.30" stroke="#000" stroke-width="3.0" stroke-linecap="round"/>
<line x1="449.30" y1="643.00" x2="449.30" y2="652.60" stroke="#000" stroke-width="3.0" stroke-linecap="round"/>
<line x1="449.30" y1="1143.90" x2="449.30" y2="1134.30" stroke="#000" stroke-width="3.0" stroke-linecap="round"/>
<line x1="530.58" y1="643.00" x2="530.58" y2="648.60" stroke="#000" stroke-width="3.0" stroke-linecap="round"/>
<line x1="530.58" y1="1143.90" x2="530.58" y2="1138.30" stroke="#000" stroke-width="3.0" stroke-linecap="round"/>
<line x1="611.85" y1="643.00" x2="611.85" y2="652.60" stroke="#000" stroke-width="3.0" stroke-linecap="round"/>
<line x1="611.85" y1="1143.90" x2="611.85" y2="1134.30" stroke="#000" stroke-width="3.0" stroke-linecap="round"/>
<line x1="693.13" y1="643.00" x2="693.13" y2="648.60" stroke="#000" stroke-width="3.0" stroke-linecap="round"/>
<line x1="693.13" y1="1143.90" x2="693.13" y2="1138.30" stroke="#000" stroke-width="3.0" stroke-linecap="round"/>
<line x1="774.40" y1="643.00" x2="774.40" y2="652.60" stroke="#000" stroke-width="3.0" stroke-linecap="round"/>
<line x1="774.40" y1="1143.90" x2="774.40" y2="1134.30" stroke="#000" stroke-width="3.0" stroke-linecap="round"/>
<line x1="124.00" y1="1107.05" x2="129.60" y2="1107.05" stroke="#000" stroke-width="3.0" stroke-linecap="round"/>
<line x1="805.40" y1="1107.05" x2="799.80" y2="1107.05" stroke="#000" stroke-width="3.0" stroke-linecap="round"/>
<line x1="124.00" y1="1029.60" x2="134.60" y2="1029.60" stroke="#000" stroke-width="3.0" stroke-linecap="round"/>
<line x1="805.40" y1="1029.60" x2="794.80" y2="1029.60" stroke="#000" stroke-width="3.0" stroke-linecap="round"/>
<line x1="124.00" y1="952.15" x2="129.60" y2="952.15" stroke="#000" stroke-width="3.0" stroke-linecap="round"/>
<line x1="805.40" y1="952.15" x2="799.80" y2="952.15" stroke="#000" stroke-width="3.0" stroke-linecap="round"/>
<line x1="124.00" y1="874.70" x2="134.60" y2="874.70" stroke="#000" stroke-width="3.0" stroke-linecap="round"/>
<line x1="805.40" y1="874.70" x2="794.80" y2="874.70" stroke="#000" stroke-width="3.0" stroke-linecap="round"/>
<line x1="124.00" y1="797.25" x2="129.60" y2="797.25" stroke="#000" stroke-width="3.0" stroke-linecap="round"/>
<line x1="805.40" y1="797.25" x2="799.80" y2="797.25" stroke="#000" stroke-width="3.0" stroke-linecap="round"/>
<line x1="124.00" y1="719.80" x2="134.60" y2="719.80" stroke="#000" stroke-width="3.0" stroke-linecap="round"/>
<line x1="805.40" y1="719.80" x2="794.80" y2="719.80" stroke="#000" stroke-width="3.0" stroke-linecap="round"/>
<defs><clipPath id="ce"><rect x="124" y="643" width="681.4" height="500.9"/></clipPath><clipPath id="ci"><rect x="411" y="783" width="379.6" height="278.5"/></clipPath></defs>
<g clip-path="url(#ce)">
<polyline points="124.50,1079.27 124.66,1076.39 124.85,1073.27 125.07,1069.92 125.33,1066.36 125.62,1062.60 125.94,1058.66 126.29,1054.55 126.68,1050.29 127.10,1045.90 127.56,1041.39 128.04,1036.78 128.56,1032.08 129.11,1027.31 129.70,1022.49 130.32,1017.63 130.97,1012.75 131.66,1007.86 132.37,1002.98 133.12,998.13 133.91,993.32 134.72,988.57 135.57,983.89 136.46,979.30 137.37,974.81 138.32,970.45 139.30,966.22 140.32,962.13 141.36,958.17 142.44,954.33 143.56,950.61 144.70,947.01 145.88,943.51 147.10,940.12 148.34,936.82 149.62,933.61 150.93,930.48 152.28,927.44 153.65,924.47 155.06,921.56 156.51,918.72 157.98,915.93 159.49,913.20 161.03,910.51 162.61,907.86 164.22,905.25 165.86,902.66 167.53,900.10 169.24,897.56 170.98,895.05 172.75,892.56 174.56,890.09 176.40,887.66 178.27,885.24 180.17,882.85 182.11,880.49 184.08,878.15 186.08,875.83 188.12,873.54 190.19,871.27 192.29,869.03 194.43,866.82 196.60,864.62 198.80,862.45 201.03,860.31 203.30,858.19 205.60,856.09 207.94,854.02 210.30,851.98 212.70,849.95 215.13,847.95 217.60,845.98 220.10,844.03 222.63,842.10 225.19,840.20 227.79,838.32 230.42,836.47 233.08,834.64 235.78,832.84 238.51,831.05 241.27,829.30 244.07,827.56 246.89,825.85 249.75,824.17 252.65,822.51 255.58,820.87 258.54,819.25 261.53,817.66 264.55,816.10 267.61,814.55 270.71,813.03 273.83,811.54 276.99,810.07 280.18,808.62 283.40,807.19 286.66,805.79 289.95,804.40 293.27,803.05 296.63,801.71 300.02,800.40 303.44,799.10 306.89,797.83 310.38,796.58 313.90,795.36 317.45,794.15 321.04,792.97 324.66,791.81 328.31,790.66 332.00,789.54 335.72,788.44 339.47,787.36 343.25,786.31 347.07,785.27 350.92,784.25 354.80,783.25 358.72,782.27 362.67,781.31 366.65,780.37 370.67,779.45 374.71,778.55 378.79,777.67 382.91,776.81 387.06,775.97 391.24,775.14 395.45,774.34 399.69,773.55 403.97,772.78 408.29,772.03 412.63,771.29 417.01,770.58 421.42,769.88 425.86,769.20 430.34,768.54 434.85,767.89 439.39,767.26 443.97,766.65 448.58,766.06 453.22,765.48 457.89,764.92 462.60,764.37 467.34,763.84 472.11,763.33 476.92,762.83 481.76,762.35 486.63,761.89 491.54,761.44 496.48,761.00 501.45,760.58 506.45,760.18 511.49,759.79 516.56,759.42 521.66,759.06 526.80,758.71 531.97,758.38 537.17,758.06 542.41,757.76 547.67,757.47 552.98,757.20 558.31,756.93 563.68,756.69 569.08,756.45 574.51,756.23 579.98,756.02 585.48,755.83 591.01,755.64 596.57,755.47 602.17,755.31 607.80,755.17 613.46,755.04 619.16,754.91 624.89,754.80 630.65,754.71 636.45,754.62 642.28,754.54 648.14,754.48 654.04,754.43 659.96,754.39 665.92,754.36 671.92,754.34 677.94,754.33 684.00,754.33 690.10,754.34 696.22,754.36 702.38,754.39 708.57,754.43 714.80,754.48 721.05,754.54 727.34,754.61 733.67,754.69 740.02,754.78 746.41,754.88 752.83,754.98 759.29,755.10 765.78,755.22 772.30,755.35 778.85,755.49 785.44,755.64 792.06,755.80 798.71,755.96 805.40,756.13" fill="none" stroke="#000" stroke-width="2.3" stroke-linejoin="round" stroke-linecap="round" />
<polyline points="124.50,1082.40 124.66,1077.16 124.85,1071.88 125.07,1066.59 125.33,1061.27 125.62,1055.95 125.94,1050.62 126.29,1045.29 126.68,1039.97 127.10,1034.65 127.56,1029.36 128.04,1024.09 128.56,1018.85 129.11,1013.64 129.70,1008.47 130.32,1003.35 130.97,998.29 131.66,993.27 132.37,988.32 133.12,983.43 133.91,978.61 134.72,973.86 135.57,969.18 136.46,964.59 137.37,960.07 138.32,955.64 139.30,951.30 140.32,947.05 141.36,942.90 142.44,938.85 143.56,934.91 144.70,931.07 145.88,927.32 147.10,923.67 148.34,920.12 149.62,916.65 150.93,913.27 152.28,909.97 153.65,906.75 155.06,903.60 156.51,900.53 157.98,897.52 159.49,894.58 161.03,891.71 162.61,888.89 164.22,886.13 165.86,883.42 167.53,880.75 169.24,878.14 170.98,875.56 172.75,873.03 174.56,870.53 176.40,868.06 178.27,865.62 180.17,863.21 182.11,860.82 184.08,858.44 186.08,856.09 188.12,853.76 190.19,851.45 192.29,849.16 194.43,846.88 196.60,844.63 198.80,842.40 201.03,840.19 203.30,838.00 205.60,835.83 207.94,833.69 210.30,831.56 212.70,829.45 215.13,827.37 217.60,825.31 220.10,823.27 222.63,821.25 225.19,819.26 227.79,817.29 230.42,815.34 233.08,813.41 235.78,811.51 238.51,809.63 241.27,807.77 244.07,805.93 246.89,804.12 249.75,802.34 252.65,800.57 255.58,798.83 258.54,797.12 261.53,795.43 264.55,793.76 267.61,792.12 270.71,790.50 273.83,788.91 276.99,787.34 280.18,785.80 283.40,784.28 286.66,782.79 289.95,781.32 293.27,779.88 296.63,778.46 300.02,777.06 303.44,775.69 306.89,774.35 310.38,773.02 313.90,771.72 317.45,770.45 321.04,769.19 324.66,767.96 328.31,766.75 332.00,765.57 335.72,764.41 339.47,763.27 343.25,762.15 347.07,761.05 350.92,759.98 354.80,758.92 358.72,757.89 362.67,756.88 366.65,755.89 370.67,754.92 374.71,753.98 378.79,753.05 382.91,752.14 387.06,751.25 391.24,750.39 395.45,749.54 399.69,748.71 403.97,747.91 408.29,747.12 412.63,746.35 417.01,745.60 421.42,744.87 425.86,744.15 430.34,743.46 434.85,742.78 439.39,742.13 443.97,741.49 448.58,740.86 453.22,740.26 457.89,739.67 462.60,739.10 467.34,738.55 472.11,738.02 476.92,737.50 481.76,736.99 486.63,736.51 491.54,736.04 496.48,735.59 501.45,735.15 506.45,734.73 511.49,734.32 516.56,733.93 521.66,733.55 526.80,733.19 531.97,732.85 537.17,732.52 542.41,732.20 547.67,731.90 552.98,731.61 558.31,731.34 563.68,731.08 569.08,730.83 574.51,730.60 579.98,730.38 585.48,730.17 591.01,729.98 596.57,729.80 602.17,729.63 607.80,729.48 613.46,729.34 619.16,729.21 624.89,729.09 630.65,728.98 636.45,728.89 642.28,728.80 648.14,728.73 654.04,728.67 659.96,728.62 665.92,728.58 671.92,728.55 677.94,728.53 684.00,728.52 690.10,728.52 696.22,728.54 702.38,728.56 708.57,728.59 714.80,728.63 721.05,728.68 727.34,728.74 733.67,728.81 740.02,728.88 746.41,728.97 752.83,729.06 759.29,729.16 765.78,729.27 772.30,729.39 778.85,729.52 785.44,729.65 792.06,729.79 798.71,729.94 805.40,730.09" fill="none" stroke="#ff1405" stroke-width="2.3" stroke-linejoin="round" stroke-linecap="round" />
<polyline points="124.50,1056.86 124.66,1052.97 124.85,1048.89 125.07,1044.63 125.33,1040.21 125.62,1035.65 125.94,1030.96 126.29,1026.15 126.68,1021.23 127.10,1016.23 127.56,1011.16 128.04,1006.02 128.56,1000.84 129.11,995.63 129.70,990.40 130.32,985.17 130.97,979.95 131.66,974.76 132.37,969.60 133.12,964.48 133.91,959.43 134.72,954.43 135.57,949.52 136.46,944.70 137.37,939.98 138.32,935.37 139.30,930.88 140.32,926.53 141.36,922.32 142.44,918.25 143.56,914.32 144.70,910.53 145.88,906.86 147.10,903.31 148.34,899.88 149.62,896.56 150.93,893.34 152.28,890.23 153.65,887.20 155.06,884.27 156.51,881.41 157.98,878.63 159.49,875.93 161.03,873.28 162.61,870.70 164.22,868.17 165.86,865.69 167.53,863.25 169.24,860.85 170.98,858.48 172.75,856.13 174.56,853.81 176.40,851.50 178.27,849.19 180.17,846.90 182.11,844.61 184.08,842.33 186.08,840.06 188.12,837.79 190.19,835.54 192.29,833.30 194.43,831.07 196.60,828.85 198.80,826.64 201.03,824.45 203.30,822.26 205.60,820.10 207.94,817.95 210.30,815.81 212.70,813.69 215.13,811.58 217.60,809.50 220.10,807.43 222.63,805.38 225.19,803.35 227.79,801.34 230.42,799.35 233.08,797.38 235.78,795.43 238.51,793.51 241.27,791.60 244.07,789.73 246.89,787.87 249.75,786.04 252.65,784.24 255.58,782.46 258.54,780.71 261.53,778.99 264.55,777.29 267.61,775.63 270.71,773.99 273.83,772.37 276.99,770.79 280.18,769.23 283.40,767.70 286.66,766.20 289.95,764.72 293.27,763.27 296.63,761.85 300.02,760.45 303.44,759.08 306.89,757.73 310.38,756.41 313.90,755.11 317.45,753.84 321.04,752.59 324.66,751.37 328.31,750.17 332.00,749.00 335.72,747.85 339.47,746.72 343.25,745.62 347.07,744.53 350.92,743.48 354.80,742.44 358.72,741.43 362.67,740.44 366.65,739.47 370.67,738.52 374.71,737.59 378.79,736.69 382.91,735.81 387.06,734.94 391.24,734.10 395.45,733.28 399.69,732.48 403.97,731.70 408.29,730.94 412.63,730.20 417.01,729.48 421.42,728.77 425.86,728.09 430.34,727.42 434.85,726.78 439.39,726.15 443.97,725.54 448.58,724.95 453.22,724.37 457.89,723.82 462.60,723.28 467.34,722.75 472.11,722.25 476.92,721.76 481.76,721.28 486.63,720.83 491.54,720.39 496.48,719.96 501.45,719.55 506.45,719.16 511.49,718.78 516.56,718.41 521.66,718.06 526.80,717.73 531.97,717.40 537.17,717.10 542.41,716.80 547.67,716.52 552.98,716.26 558.31,716.00 563.68,715.76 569.08,715.53 574.51,715.32 579.98,715.11 585.48,714.92 591.01,714.74 596.57,714.57 602.17,714.42 607.80,714.27 613.46,714.14 619.16,714.01 624.89,713.90 630.65,713.80 636.45,713.70 642.28,713.62 648.14,713.55 654.04,713.48 659.96,713.43 665.92,713.38 671.92,713.34 677.94,713.31 684.00,713.29 690.10,713.28 696.22,713.28 702.38,713.28 708.57,713.29 714.80,713.31 721.05,713.33 727.34,713.36 733.67,713.40 740.02,713.45 746.41,713.50 752.83,713.55 759.29,713.62 765.78,713.68 772.30,713.76 778.85,713.84 785.44,713.92 792.06,714.01 798.71,714.10 805.40,714.19" fill="none" stroke="#0600ff" stroke-width="2.3" stroke-linejoin="round" stroke-linecap="round" />
<polyline points="124.50,1024.32 124.66,1019.17 124.85,1013.91 125.07,1008.55 125.33,1003.12 125.62,997.63 125.94,992.10 126.29,986.54 126.68,980.97 127.10,975.42 127.56,969.89 128.04,964.41 128.56,958.99 129.11,953.65 129.70,948.41 130.32,943.29 130.97,938.29 131.66,933.45 132.37,928.77 133.12,924.27 133.91,919.95 134.72,915.79 135.57,911.79 136.46,907.93 137.37,904.22 138.32,900.63 139.30,897.17 140.32,893.82 141.36,890.57 142.44,887.43 143.56,884.37 144.70,881.38 145.88,878.47 147.10,875.63 148.34,872.83 149.62,870.08 150.93,867.37 152.28,864.69 153.65,862.03 155.06,859.41 156.51,856.81 157.98,854.24 159.49,851.69 161.03,849.18 162.61,846.68 164.22,844.22 165.86,841.78 167.53,839.36 169.24,836.98 170.98,834.61 172.75,832.27 174.56,829.95 176.40,827.66 178.27,825.39 180.17,823.14 182.11,820.92 184.08,818.71 186.08,816.53 188.12,814.37 190.19,812.24 192.29,810.12 194.43,808.02 196.60,805.94 198.80,803.88 201.03,801.85 203.30,799.83 205.60,797.83 207.94,795.84 210.30,793.88 212.70,791.93 215.13,790.00 217.60,788.09 220.10,786.19 222.63,784.31 225.19,782.44 227.79,780.60 230.42,778.76 233.08,776.94 235.78,775.14 238.51,773.34 241.27,771.57 244.07,769.80 246.89,768.05 249.75,766.31 252.65,764.59 255.58,762.87 258.54,761.18 261.53,759.49 264.55,757.82 267.61,756.16 270.71,754.52 273.83,752.90 276.99,751.29 280.18,749.70 283.40,748.12 286.66,746.57 289.95,745.03 293.27,743.51 296.63,742.00 300.02,740.52 303.44,739.06 306.89,737.61 310.38,736.19 313.90,734.79 317.45,733.41 321.04,732.05 324.66,730.71 328.31,729.39 332.00,728.10 335.72,726.84 339.47,725.59 343.25,724.37 347.07,723.18 350.92,722.01 354.80,720.86 358.72,719.75 362.67,718.65 366.65,717.59 370.67,716.55 374.71,715.54 378.79,714.56 382.91,713.61 387.06,712.69 391.24,711.79 395.45,710.93 399.69,710.09 403.97,709.29 408.29,708.52 412.63,707.78 417.01,707.07 421.42,706.38 425.86,705.73 430.34,705.10 434.85,704.51 439.39,703.93 443.97,703.39 448.58,702.87 453.22,702.37 457.89,701.90 462.60,701.45 467.34,701.02 472.11,700.61 476.92,700.23 481.76,699.87 486.63,699.52 491.54,699.20 496.48,698.89 501.45,698.61 506.45,698.33 511.49,698.08 516.56,697.84 521.66,697.62 526.80,697.41 531.97,697.22 537.17,697.03 542.41,696.87 547.67,696.71 552.98,696.56 558.31,696.43 563.68,696.30 569.08,696.19 574.51,696.08 579.98,695.98 585.48,695.89 591.01,695.80 596.57,695.72 602.17,695.65 607.80,695.58 613.46,695.51 619.16,695.45 624.89,695.39 630.65,695.33 636.45,695.27 642.28,695.21 648.14,695.16 654.04,695.10 659.96,695.04 665.92,694.98 671.92,694.92 677.94,694.85 684.00,694.78 690.10,694.70 696.22,694.62 702.38,694.53 708.57,694.44 714.80,694.34 721.05,694.23 727.34,694.11 733.67,693.98 740.02,693.84 746.41,693.70 752.83,693.54 759.29,693.36 765.78,693.18 772.30,692.98 778.85,692.77 785.44,692.54 792.06,692.30 798.71,692.04 805.40,691.77" fill="none" stroke="#ff1eff" stroke-width="2.3" stroke-linejoin="round" stroke-linecap="round" />
</g>
<line x1="130.80" y1="996.00" x2="142.80" y2="996.00" stroke="#000" stroke-width="2.4" />
<line x1="130.80" y1="1005.20" x2="142.80" y2="1005.20" stroke="#000" stroke-width="2.4" />
<rect x="128.80" y="992.60" width="16.00" height="16.00" fill="none" stroke="#000" stroke-width="3.9"/>
<line x1="167.50" y1="905.90" x2="179.50" y2="905.90" stroke="#000" stroke-width="2.4" />
<line x1="167.50" y1="915.10" x2="179.50" y2="915.10" stroke="#000" stroke-width="2.4" />
<rect x="165.50" y="902.50" width="16.00" height="16.00" fill="none" stroke="#000" stroke-width="3.9"/>
<line x1="204.30" y1="854.90" x2="216.30" y2="854.90" stroke="#000" stroke-width="2.4" />
<line x1="204.30" y1="864.10" x2="216.30" y2="864.10" stroke="#000" stroke-width="2.4" />
<rect x="202.30" y="851.50" width="16.00" height="16.00" fill="none" stroke="#000" stroke-width="3.9"/>
<line x1="252.00" y1="830.50" x2="264.00" y2="830.50" stroke="#000" stroke-width="2.4" />
<line x1="252.00" y1="839.70" x2="264.00" y2="839.70" stroke="#000" stroke-width="2.4" />
<rect x="250.00" y="827.10" width="16.00" height="16.00" fill="none" stroke="#000" stroke-width="3.9"/>
<line x1="299.00" y1="808.40" x2="311.00" y2="808.40" stroke="#000" stroke-width="2.4" />
<line x1="299.00" y1="817.60" x2="311.00" y2="817.60" stroke="#000" stroke-width="2.4" />
<rect x="297.00" y="805.00" width="16.00" height="16.00" fill="none" stroke="#000" stroke-width="3.9"/>
<line x1="488.10" y1="762.30" x2="500.10" y2="762.30" stroke="#000" stroke-width="2.4" />
<line x1="488.10" y1="771.50" x2="500.10" y2="771.50" stroke="#000" stroke-width="2.4" />
<rect x="486.10" y="758.90" width="16.00" height="16.00" fill="none" stroke="#000" stroke-width="3.9"/>
<line x1="160.50" y1="903.50" x2="160.50" y2="917.50" stroke="#ff1405" stroke-width="2.4" />
<line x1="160.50" y1="907.90" x2="160.50" y2="913.10" stroke="#ff1405" stroke-width="2.4" />
<line x1="154.50" y1="907.90" x2="166.50" y2="907.90" stroke="#ff1405" stroke-width="2.4" />
<line x1="154.50" y1="913.10" x2="166.50" y2="913.10" stroke="#ff1405" stroke-width="2.4" />
<circle cx="160.50" cy="910.50" r="9.40" fill="none" stroke="#ff1405" stroke-width="3.6"/>
<line x1="199.60" y1="841.10" x2="199.60" y2="855.10" stroke="#ff1405" stroke-width="2.4" />
<line x1="199.60" y1="845.50" x2="199.60" y2="850.70" stroke="#ff1405" stroke-width="2.4" />
<line x1="193.60" y1="845.50" x2="205.60" y2="845.50" stroke="#ff1405" stroke-width="2.4" />
<line x1="193.60" y1="850.70" x2="205.60" y2="850.70" stroke="#ff1405" stroke-width="2.4" />
<circle cx="199.60" cy="848.10" r="9.40" fill="none" stroke="#ff1405" stroke-width="3.6"/>
<line x1="245.50" y1="806.40" x2="245.50" y2="820.40" stroke="#ff1405" stroke-width="2.4" />
<line x1="245.50" y1="810.80" x2="245.50" y2="816.00" stroke="#ff1405" stroke-width="2.4" />
<line x1="239.50" y1="810.80" x2="251.50" y2="810.80" stroke="#ff1405" stroke-width="2.4" />
<line x1="239.50" y1="816.00" x2="251.50" y2="816.00" stroke="#ff1405" stroke-width="2.4" />
<circle cx="245.50" cy="813.40" r="9.40" fill="none" stroke="#ff1405" stroke-width="3.6"/>
<line x1="292.50" y1="777.10" x2="292.50" y2="791.10" stroke="#ff1405" stroke-width="2.4" />
<line x1="292.50" y1="781.50" x2="292.50" y2="786.70" stroke="#ff1405" stroke-width="2.4" />
<line x1="286.50" y1="781.50" x2="298.50" y2="781.50" stroke="#ff1405" stroke-width="2.4" />
<line x1="286.50" y1="786.70" x2="298.50" y2="786.70" stroke="#ff1405" stroke-width="2.4" />
<circle cx="292.50" cy="784.10" r="9.40" fill="none" stroke="#ff1405" stroke-width="3.6"/>
<line x1="339.10" y1="768.30" x2="339.10" y2="782.30" stroke="#ff1405" stroke-width="2.4" />
<line x1="339.10" y1="772.70" x2="339.10" y2="777.90" stroke="#ff1405" stroke-width="2.4" />
<line x1="333.10" y1="772.70" x2="345.10" y2="772.70" stroke="#ff1405" stroke-width="2.4" />
<line x1="333.10" y1="777.90" x2="345.10" y2="777.90" stroke="#ff1405" stroke-width="2.4" />
<circle cx="339.10" cy="775.30" r="9.40" fill="none" stroke="#ff1405" stroke-width="3.6"/>
<line x1="386.70" y1="742.00" x2="386.70" y2="756.00" stroke="#ff1405" stroke-width="2.4" />
<line x1="386.70" y1="746.40" x2="386.70" y2="751.60" stroke="#ff1405" stroke-width="2.4" />
<line x1="380.70" y1="746.40" x2="392.70" y2="746.40" stroke="#ff1405" stroke-width="2.4" />
<line x1="380.70" y1="751.60" x2="392.70" y2="751.60" stroke="#ff1405" stroke-width="2.4" />
<circle cx="386.70" cy="749.00" r="9.40" fill="none" stroke="#ff1405" stroke-width="3.6"/>
<line x1="481.00" y1="730.60" x2="481.00" y2="744.60" stroke="#ff1405" stroke-width="2.4" />
<line x1="481.00" y1="735.00" x2="481.00" y2="740.20" stroke="#ff1405" stroke-width="2.4" />
<line x1="475.00" y1="735.00" x2="487.00" y2="735.00" stroke="#ff1405" stroke-width="2.4" />
<line x1="475.00" y1="740.20" x2="487.00" y2="740.20" stroke="#ff1405" stroke-width="2.4" />
<circle cx="481.00" cy="737.60" r="9.40" fill="none" stroke="#ff1405" stroke-width="3.6"/>
<line x1="573.90" y1="735.40" x2="573.90" y2="749.40" stroke="#ff1405" stroke-width="2.4" />
<line x1="573.90" y1="739.80" x2="573.90" y2="745.00" stroke="#ff1405" stroke-width="2.4" />
<line x1="567.90" y1="739.80" x2="579.90" y2="739.80" stroke="#ff1405" stroke-width="2.4" />
<line x1="567.90" y1="745.00" x2="579.90" y2="745.00" stroke="#ff1405" stroke-width="2.4" />
<circle cx="573.90" cy="742.40" r="9.40" fill="none" stroke="#ff1405" stroke-width="3.6"/>
<line x1="134.40" y1="955.80" x2="134.40" y2="977.30" stroke="#0600ff" stroke-width="2.6" />
<line x1="134.40" y1="960.80" x2="134.40" y2="966.80" stroke="#0600ff" stroke-width="2.2" />
<line x1="129.40" y1="960.80" x2="139.40" y2="960.80" stroke="#0600ff" stroke-width="2.2" />
<line x1="129.40" y1="966.80" x2="139.40" y2="966.80" stroke="#0600ff" stroke-width="2.2" />
<polygon points="124.40,972.30 144.40,972.30 134.40,955.30" fill="none" stroke="#0600ff" stroke-width="3.6" stroke-linejoin="miter"/>
<line x1="148.60" y1="908.40" x2="148.60" y2="929.90" stroke="#0600ff" stroke-width="2.6" />
<line x1="148.60" y1="913.40" x2="148.60" y2="919.40" stroke="#0600ff" stroke-width="2.2" />
<line x1="143.60" y1="913.40" x2="153.60" y2="913.40" stroke="#0600ff" stroke-width="2.2" />
<line x1="143.60" y1="919.40" x2="153.60" y2="919.40" stroke="#0600ff" stroke-width="2.2" />
<polygon points="138.60,924.90 158.60,924.90 148.60,907.90" fill="none" stroke="#0600ff" stroke-width="3.6" stroke-linejoin="miter"/>
<line x1="190.00" y1="843.60" x2="190.00" y2="865.10" stroke="#0600ff" stroke-width="2.6" />
<line x1="190.00" y1="848.60" x2="190.00" y2="854.60" stroke="#0600ff" stroke-width="2.2" />
<line x1="185.00" y1="848.60" x2="195.00" y2="848.60" stroke="#0600ff" stroke-width="2.2" />
<line x1="185.00" y1="854.60" x2="195.00" y2="854.60" stroke="#0600ff" stroke-width="2.2" />
<polygon points="180.00,860.10 200.00,860.10 190.00,843.10" fill="none" stroke="#0600ff" stroke-width="3.6" stroke-linejoin="miter"/>
<line x1="232.00" y1="791.50" x2="232.00" y2="813.00" stroke="#0600ff" stroke-width="2.6" />
<line x1="232.00" y1="796.50" x2="232.00" y2="802.50" stroke="#0600ff" stroke-width="2.2" />
<line x1="227.00" y1="796.50" x2="237.00" y2="796.50" stroke="#0600ff" stroke-width="2.2" />
<line x1="227.00" y1="802.50" x2="237.00" y2="802.50" stroke="#0600ff" stroke-width="2.2" />
<polygon points="222.00,808.00 242.00,808.00 232.00,791.00" fill="none" stroke="#0600ff" stroke-width="3.6" stroke-linejoin="miter"/>
<line x1="273.50" y1="759.50" x2="273.50" y2="781.00" stroke="#0600ff" stroke-width="2.6" />
<line x1="273.50" y1="764.50" x2="273.50" y2="770.50" stroke="#0600ff" stroke-width="2.2" />
<line x1="268.50" y1="764.50" x2="278.50" y2="764.50" stroke="#0600ff" stroke-width="2.2" />
<line x1="268.50" y1="770.50" x2="278.50" y2="770.50" stroke="#0600ff" stroke-width="2.2" />
<polygon points="263.50,776.00 283.50,776.00 273.50,759.00" fill="none" stroke="#0600ff" stroke-width="3.6" stroke-linejoin="miter"/>
<line x1="314.70" y1="744.50" x2="314.70" y2="766.00" stroke="#0600ff" stroke-width="2.6" />
<line x1="314.70" y1="749.50" x2="314.70" y2="755.50" stroke="#0600ff" stroke-width="2.2" />
<line x1="309.70" y1="749.50" x2="319.70" y2="749.50" stroke="#0600ff" stroke-width="2.2" />
<line x1="309.70" y1="755.50" x2="319.70" y2="755.50" stroke="#0600ff" stroke-width="2.2" />
<polygon points="304.70,761.00 324.70,761.00 314.70,744.00" fill="none" stroke="#0600ff" stroke-width="3.6" stroke-linejoin="miter"/>
<line x1="356.10" y1="724.60" x2="356.10" y2="746.10" stroke="#0600ff" stroke-width="2.6" />
<line x1="356.10" y1="729.60" x2="356.10" y2="735.60" stroke="#0600ff" stroke-width="2.2" />
<line x1="351.10" y1="729.60" x2="361.10" y2="729.60" stroke="#0600ff" stroke-width="2.2" />
<line x1="351.10" y1="735.60" x2="361.10" y2="735.60" stroke="#0600ff" stroke-width="2.2" />
<polygon points="346.10,741.10 366.10,741.10 356.10,724.10" fill="none" stroke="#0600ff" stroke-width="3.6" stroke-linejoin="miter"/>
<line x1="398.00" y1="716.00" x2="398.00" y2="737.50" stroke="#0600ff" stroke-width="2.6" />
<line x1="398.00" y1="721.00" x2="398.00" y2="727.00" stroke="#0600ff" stroke-width="2.2" />
<line x1="393.00" y1="721.00" x2="403.00" y2="721.00" stroke="#0600ff" stroke-width="2.2" />
<line x1="393.00" y1="727.00" x2="403.00" y2="727.00" stroke="#0600ff" stroke-width="2.2" />
<polygon points="388.00,732.50 408.00,732.50 398.00,715.50" fill="none" stroke="#0600ff" stroke-width="3.6" stroke-linejoin="miter"/>
<line x1="439.60" y1="712.50" x2="439.60" y2="734.00" stroke="#0600ff" stroke-width="2.6" />
<line x1="439.60" y1="717.50" x2="439.60" y2="723.50" stroke="#0600ff" stroke-width="2.2" />
<line x1="434.60" y1="717.50" x2="444.60" y2="717.50" stroke="#0600ff" stroke-width="2.2" />
<line x1="434.60" y1="723.50" x2="444.60" y2="723.50" stroke="#0600ff" stroke-width="2.2" />
<polygon points="429.60,729.00 449.60,729.00 439.60,712.00" fill="none" stroke="#0600ff" stroke-width="3.6" stroke-linejoin="miter"/>
<line x1="481.00" y1="713.30" x2="481.00" y2="734.80" stroke="#0600ff" stroke-width="2.6" />
<line x1="481.00" y1="718.30" x2="481.00" y2="724.30" stroke="#0600ff" stroke-width="2.2" />
<line x1="476.00" y1="718.30" x2="486.00" y2="718.30" stroke="#0600ff" stroke-width="2.2" />
<line x1="476.00" y1="724.30" x2="486.00" y2="724.30" stroke="#0600ff" stroke-width="2.2" />
<polygon points="471.00,729.80 491.00,729.80 481.00,712.80" fill="none" stroke="#0600ff" stroke-width="3.6" stroke-linejoin="miter"/>
<line x1="521.80" y1="695.30" x2="521.80" y2="716.80" stroke="#0600ff" stroke-width="2.6" />
<line x1="521.80" y1="700.30" x2="521.80" y2="706.30" stroke="#0600ff" stroke-width="2.2" />
<line x1="516.80" y1="700.30" x2="526.80" y2="700.30" stroke="#0600ff" stroke-width="2.2" />
<line x1="516.80" y1="706.30" x2="526.80" y2="706.30" stroke="#0600ff" stroke-width="2.2" />
<polygon points="511.80,711.80 531.80,711.80 521.80,694.80" fill="none" stroke="#0600ff" stroke-width="3.6" stroke-linejoin="miter"/>
<line x1="564.20" y1="700.20" x2="564.20" y2="721.70" stroke="#0600ff" stroke-width="2.6" />
<line x1="564.20" y1="705.20" x2="564.20" y2="711.20" stroke="#0600ff" stroke-width="2.2" />
<line x1="559.20" y1="705.20" x2="569.20" y2="705.20" stroke="#0600ff" stroke-width="2.2" />
<line x1="559.20" y1="711.20" x2="569.20" y2="711.20" stroke="#0600ff" stroke-width="2.2" />
<polygon points="554.20,716.70 574.20,716.70 564.20,699.70" fill="none" stroke="#0600ff" stroke-width="3.6" stroke-linejoin="miter"/>
<line x1="604.90" y1="710.00" x2="604.90" y2="731.50" stroke="#0600ff" stroke-width="2.6" />
<line x1="604.90" y1="715.00" x2="604.90" y2="721.00" stroke="#0600ff" stroke-width="2.2" />
<line x1="599.90" y1="715.00" x2="609.90" y2="715.00" stroke="#0600ff" stroke-width="2.2" />
<line x1="599.90" y1="721.00" x2="609.90" y2="721.00" stroke="#0600ff" stroke-width="2.2" />
<polygon points="594.90,726.50 614.90,726.50 604.90,709.50" fill="none" stroke="#0600ff" stroke-width="3.6" stroke-linejoin="miter"/>
<line x1="688.00" y1="713.30" x2="688.00" y2="734.80" stroke="#0600ff" stroke-width="2.6" />
<line x1="688.00" y1="718.30" x2="688.00" y2="724.30" stroke="#0600ff" stroke-width="2.2" />
<line x1="683.00" y1="718.30" x2="693.00" y2="718.30" stroke="#0600ff" stroke-width="2.2" />
<line x1="683.00" y1="724.30" x2="693.00" y2="724.30" stroke="#0600ff" stroke-width="2.2" />
<polygon points="678.00,729.80 698.00,729.80 688.00,712.80" fill="none" stroke="#0600ff" stroke-width="3.6" stroke-linejoin="miter"/>
<line x1="771.10" y1="708.40" x2="771.10" y2="729.90" stroke="#0600ff" stroke-width="2.6" />
<line x1="771.10" y1="713.40" x2="771.10" y2="719.40" stroke="#0600ff" stroke-width="2.2" />
<line x1="766.10" y1="713.40" x2="776.10" y2="713.40" stroke="#0600ff" stroke-width="2.2" />
<line x1="766.10" y1="719.40" x2="776.10" y2="719.40" stroke="#0600ff" stroke-width="2.2" />
<polygon points="761.10,724.90 781.10,724.90 771.10,707.90" fill="none" stroke="#0600ff" stroke-width="3.6" stroke-linejoin="miter"/>
<line x1="205.20" y1="785.00" x2="205.20" y2="807.50" stroke="#ff1eff" stroke-width="2.8" stroke-linecap="round"/>
<line x1="205.20" y1="796.50" x2="205.20" y2="802.50" stroke="#ff1eff" stroke-width="2.2" />
<line x1="200.20" y1="796.50" x2="210.20" y2="796.50" stroke="#ff1eff" stroke-width="2.2" />
<line x1="200.20" y1="802.50" x2="210.20" y2="802.50" stroke="#ff1eff" stroke-width="2.2" />
<polygon points="194.45,790.25 215.95,790.25 205.20,808.75" fill="none" stroke="#ff1eff" stroke-width="3.6" stroke-linejoin="miter"/>
<line x1="244.60" y1="764.50" x2="244.60" y2="787.00" stroke="#ff1eff" stroke-width="2.8" stroke-linecap="round"/>
<line x1="244.60" y1="776.00" x2="244.60" y2="782.00" stroke="#ff1eff" stroke-width="2.2" />
<line x1="239.60" y1="776.00" x2="249.60" y2="776.00" stroke="#ff1eff" stroke-width="2.2" />
<line x1="239.60" y1="782.00" x2="249.60" y2="782.00" stroke="#ff1eff" stroke-width="2.2" />
<polygon points="233.85,769.75 255.35,769.75 244.60,788.25" fill="none" stroke="#ff1eff" stroke-width="3.6" stroke-linejoin="miter"/>
<line x1="323.40" y1="708.50" x2="323.40" y2="731.00" stroke="#ff1eff" stroke-width="2.8" stroke-linecap="round"/>
<line x1="323.40" y1="720.00" x2="323.40" y2="726.00" stroke="#ff1eff" stroke-width="2.2" />
<line x1="318.40" y1="720.00" x2="328.40" y2="720.00" stroke="#ff1eff" stroke-width="2.2" />
<line x1="318.40" y1="726.00" x2="328.40" y2="726.00" stroke="#ff1eff" stroke-width="2.2" />
<polygon points="312.65,713.75 334.15,713.75 323.40,732.25" fill="none" stroke="#ff1eff" stroke-width="3.6" stroke-linejoin="miter"/>
<line x1="362.40" y1="697.50" x2="362.40" y2="720.00" stroke="#ff1eff" stroke-width="2.8" stroke-linecap="round"/>
<line x1="362.40" y1="709.00" x2="362.40" y2="715.00" stroke="#ff1eff" stroke-width="2.2" />
<line x1="357.40" y1="709.00" x2="367.40" y2="709.00" stroke="#ff1eff" stroke-width="2.2" />
<line x1="357.40" y1="715.00" x2="367.40" y2="715.00" stroke="#ff1eff" stroke-width="2.2" />
<polygon points="351.65,702.75 373.15,702.75 362.40,721.25" fill="none" stroke="#ff1eff" stroke-width="3.6" stroke-linejoin="miter"/>
<line x1="370.30" y1="697.50" x2="370.30" y2="720.00" stroke="#ff1eff" stroke-width="2.8" stroke-linecap="round"/>
<line x1="370.30" y1="709.00" x2="370.30" y2="715.00" stroke="#ff1eff" stroke-width="2.2" />
<line x1="365.30" y1="709.00" x2="375.30" y2="709.00" stroke="#ff1eff" stroke-width="2.2" />
<line x1="365.30" y1="715.00" x2="375.30" y2="715.00" stroke="#ff1eff" stroke-width="2.2" />
<polygon points="359.55,702.75 381.05,702.75 370.30,721.25" fill="none" stroke="#ff1eff" stroke-width="3.6" stroke-linejoin="miter"/>
<line x1="402.30" y1="688.30" x2="402.30" y2="710.80" stroke="#ff1eff" stroke-width="2.8" stroke-linecap="round"/>
<line x1="402.30" y1="699.80" x2="402.30" y2="705.80" stroke="#ff1eff" stroke-width="2.2" />
<line x1="397.30" y1="699.80" x2="407.30" y2="699.80" stroke="#ff1eff" stroke-width="2.2" />
<line x1="397.30" y1="705.80" x2="407.30" y2="705.80" stroke="#ff1eff" stroke-width="2.2" />
<polygon points="391.55,693.55 413.05,693.55 402.30,712.05" fill="none" stroke="#ff1eff" stroke-width="3.6" stroke-linejoin="miter"/>
<line x1="440.50" y1="696.50" x2="440.50" y2="719.00" stroke="#ff1eff" stroke-width="2.8" stroke-linecap="round"/>
<line x1="440.50" y1="708.00" x2="440.50" y2="714.00" stroke="#ff1eff" stroke-width="2.2" />
<line x1="435.50" y1="708.00" x2="445.50" y2="708.00" stroke="#ff1eff" stroke-width="2.2" />
<line x1="435.50" y1="714.00" x2="445.50" y2="714.00" stroke="#ff1eff" stroke-width="2.2" />
<polygon points="429.75,701.75 451.25,701.75 440.50,720.25" fill="none" stroke="#ff1eff" stroke-width="3.6" stroke-linejoin="miter"/>
<line x1="481.00" y1="685.40" x2="481.00" y2="707.90" stroke="#ff1eff" stroke-width="2.8" stroke-linecap="round"/>
<line x1="481.00" y1="696.90" x2="481.00" y2="702.90" stroke="#ff1eff" stroke-width="2.2" />
<line x1="476.00" y1="696.90" x2="486.00" y2="696.90" stroke="#ff1eff" stroke-width="2.2" />
<line x1="476.00" y1="702.90" x2="486.00" y2="702.90" stroke="#ff1eff" stroke-width="2.2" />
<polygon points="470.25,690.65 491.75,690.65 481.00,709.15" fill="none" stroke="#ff1eff" stroke-width="3.6" stroke-linejoin="miter"/>
<line x1="520.20" y1="665.90" x2="520.20" y2="688.40" stroke="#ff1eff" stroke-width="2.8" stroke-linecap="round"/>
<line x1="520.20" y1="677.40" x2="520.20" y2="683.40" stroke="#ff1eff" stroke-width="2.2" />
<line x1="515.20" y1="677.40" x2="525.20" y2="677.40" stroke="#ff1eff" stroke-width="2.2" />
<line x1="515.20" y1="683.40" x2="525.20" y2="683.40" stroke="#ff1eff" stroke-width="2.2" />
<polygon points="509.45,671.15 530.95,671.15 520.20,689.65" fill="none" stroke="#ff1eff" stroke-width="3.6" stroke-linejoin="miter"/>
<line x1="559.30" y1="675.70" x2="559.30" y2="698.20" stroke="#ff1eff" stroke-width="2.8" stroke-linecap="round"/>
<line x1="559.30" y1="687.20" x2="559.30" y2="693.20" stroke="#ff1eff" stroke-width="2.2" />
<line x1="554.30" y1="687.20" x2="564.30" y2="687.20" stroke="#ff1eff" stroke-width="2.2" />
<line x1="554.30" y1="693.20" x2="564.30" y2="693.20" stroke="#ff1eff" stroke-width="2.2" />
<polygon points="548.55,680.95 570.05,680.95 559.30,699.45" fill="none" stroke="#ff1eff" stroke-width="3.6" stroke-linejoin="miter"/>
<line x1="598.40" y1="708.30" x2="598.40" y2="730.80" stroke="#ff1eff" stroke-width="2.8" stroke-linecap="round"/>
<line x1="598.40" y1="719.80" x2="598.40" y2="725.80" stroke="#ff1eff" stroke-width="2.2" />
<line x1="593.40" y1="719.80" x2="603.40" y2="719.80" stroke="#ff1eff" stroke-width="2.2" />
<line x1="593.40" y1="725.80" x2="603.40" y2="725.80" stroke="#ff1eff" stroke-width="2.2" />
<polygon points="587.65,713.55 609.15,713.55 598.40,732.05" fill="none" stroke="#ff1eff" stroke-width="3.6" stroke-linejoin="miter"/>
<line x1="637.50" y1="690.30" x2="637.50" y2="712.80" stroke="#ff1eff" stroke-width="2.8" stroke-linecap="round"/>
<line x1="637.50" y1="701.80" x2="637.50" y2="707.80" stroke="#ff1eff" stroke-width="2.2" />
<line x1="632.50" y1="701.80" x2="642.50" y2="701.80" stroke="#ff1eff" stroke-width="2.2" />
<line x1="632.50" y1="707.80" x2="642.50" y2="707.80" stroke="#ff1eff" stroke-width="2.2" />
<polygon points="626.75,695.55 648.25,695.55 637.50,714.05" fill="none" stroke="#ff1eff" stroke-width="3.6" stroke-linejoin="miter"/>
<line x1="715.70" y1="700.10" x2="715.70" y2="722.60" stroke="#ff1eff" stroke-width="2.8" stroke-linecap="round"/>
<line x1="715.70" y1="711.60" x2="715.70" y2="717.60" stroke="#ff1eff" stroke-width="2.2" />
<line x1="710.70" y1="711.60" x2="720.70" y2="711.60" stroke="#ff1eff" stroke-width="2.2" />
<line x1="710.70" y1="717.60" x2="720.70" y2="717.60" stroke="#ff1eff" stroke-width="2.2" />
<polygon points="704.95,705.35 726.45,705.35 715.70,723.85" fill="none" stroke="#ff1eff" stroke-width="3.6" stroke-linejoin="miter"/>
<rect x="411.0" y="783.2" width="379.6" height="278.29999999999995" fill="#fff"/>
<line x1="501.30" y1="783.20" x2="501.30" y2="786.30" stroke="#000" stroke-width="2.8" stroke-linecap="round"/>
<line x1="501.30" y1="1061.50" x2="501.30" y2="1058.40" stroke="#000" stroke-width="2.8" stroke-linecap="round"/>
<line x1="591.60" y1="783.20" x2="591.60" y2="788.80" stroke="#000" stroke-width="2.8" stroke-linecap="round"/>
<line x1="591.60" y1="1061.50" x2="591.60" y2="1055.90" stroke="#000" stroke-width="2.8" stroke-linecap="round"/>
<line x1="681.90" y1="783.20" x2="681.90" y2="786.30" stroke="#000" stroke-width="2.8" stroke-linecap="round"/>
<line x1="681.90" y1="1061.50" x2="681.90" y2="1058.40" stroke="#000" stroke-width="2.8" stroke-linecap="round"/>
<line x1="772.20" y1="783.20" x2="772.20" y2="788.80" stroke="#000" stroke-width="2.8" stroke-linecap="round"/>
<line x1="772.20" y1="1061.50" x2="772.20" y2="1055.90" stroke="#000" stroke-width="2.8" stroke-linecap="round"/>
<line x1="411.00" y1="1010.90" x2="416.60" y2="1010.90" stroke="#000" stroke-width="2.8" stroke-linecap="round"/>
<line x1="790.60" y1="1010.90" x2="785.00" y2="1010.90" stroke="#000" stroke-width="2.8" stroke-linecap="round"/>
<line x1="411.00" y1="960.35" x2="414.10" y2="960.35" stroke="#000" stroke-width="2.8" stroke-linecap="round"/>
<line x1="790.60" y1="960.35" x2="787.50" y2="960.35" stroke="#000" stroke-width="2.8" stroke-linecap="round"/>
<line x1="411.00" y1="909.80" x2="416.60" y2="909.80" stroke="#000" stroke-width="2.8" stroke-linecap="round"/>
<line x1="790.60" y1="909.80" x2="785.00" y2="909.80" stroke="#000" stroke-width="2.8" stroke-linecap="round"/>
<line x1="411.00" y1="859.25" x2="414.10" y2="859.25" stroke="#000" stroke-width="2.8" stroke-linecap="round"/>
<line x1="790.60" y1="859.25" x2="787.50" y2="859.25" stroke="#000" stroke-width="2.8" stroke-linecap="round"/>
<line x1="411.00" y1="808.70" x2="416.60" y2="808.70" stroke="#000" stroke-width="2.8" stroke-linecap="round"/>
<line x1="790.60" y1="808.70" x2="785.00" y2="808.70" stroke="#000" stroke-width="2.8" stroke-linecap="round"/>
<g clip-path="url(#ci)">
<rect x="411.90" y="1020.00" width="11.00" height="11.00" fill="none" stroke="#000" stroke-width="3.0"/>
<rect x="432.20" y="938.50" width="11.00" height="11.00" fill="none" stroke="#000" stroke-width="3.0"/>
<rect x="453.60" y="892.70" width="11.00" height="11.00" fill="none" stroke="#000" stroke-width="3.0"/>
<rect x="479.50" y="872.50" width="11.00" height="11.00" fill="none" stroke="#000" stroke-width="3.0"/>
<rect x="505.40" y="853.80" width="11.00" height="11.00" fill="none" stroke="#000" stroke-width="3.0"/>
<rect x="552.10" y="819.60" width="11.00" height="11.00" fill="none" stroke="#000" stroke-width="3.0"/>
<rect x="613.20" y="814.50" width="11.00" height="11.00" fill="none" stroke="#000" stroke-width="3.0"/>
<circle cx="430.90" cy="959.00" r="7.30" fill="none" stroke="#ff1405" stroke-width="3.2"/>
<circle cx="451.20" cy="908.40" r="7.30" fill="none" stroke="#ff1405" stroke-width="3.2"/>
<circle cx="478.20" cy="880.20" r="7.30" fill="none" stroke="#ff1405" stroke-width="3.2"/>
<circle cx="504.10" cy="855.50" r="7.30" fill="none" stroke="#ff1405" stroke-width="3.2"/>
<circle cx="530.00" cy="847.60" r="7.30" fill="none" stroke="#ff1405" stroke-width="3.2"/>
<circle cx="557.00" cy="827.30" r="7.30" fill="none" stroke="#ff1405" stroke-width="3.2"/>
<circle cx="661.00" cy="820.50" r="7.30" fill="none" stroke="#ff1405" stroke-width="3.2"/>
<polygon points="406.60,1019.50 423.60,1019.50 415.10,1004.50" fill="none" stroke="#0600ff" stroke-width="3.2" stroke-linejoin="miter"/>
<polygon points="415.60,981.20 432.60,981.20 424.10,966.20" fill="none" stroke="#0600ff" stroke-width="3.2" stroke-linejoin="miter"/>
<polygon points="439.30,929.40 456.30,929.40 447.80,914.40" fill="none" stroke="#0600ff" stroke-width="3.2" stroke-linejoin="miter"/>
<polygon points="464.10,888.90 481.10,888.90 472.60,873.90" fill="none" stroke="#0600ff" stroke-width="3.2" stroke-linejoin="miter"/>
<polygon points="485.50,860.70 502.50,860.70 494.00,845.70" fill="none" stroke="#0600ff" stroke-width="3.2" stroke-linejoin="miter"/>
<polygon points="509.10,847.20 526.10,847.20 517.60,832.20" fill="none" stroke="#0600ff" stroke-width="3.2" stroke-linejoin="miter"/>
<polygon points="529.40,828.00 546.40,828.00 537.90,813.00" fill="none" stroke="#0600ff" stroke-width="3.2" stroke-linejoin="miter"/>
<polygon points="554.20,823.10 571.20,823.10 562.70,808.10" fill="none" stroke="#0600ff" stroke-width="3.2" stroke-linejoin="miter"/>
<polygon points="577.80,818.60 594.80,818.60 586.30,803.60" fill="none" stroke="#0600ff" stroke-width="3.2" stroke-linejoin="miter"/>
<polygon points="601.30,823.10 618.30,823.10 609.80,808.10" fill="none" stroke="#0600ff" stroke-width="3.2" stroke-linejoin="miter"/>
<polygon points="623.50,807.10 640.50,807.10 632.00,792.10" fill="none" stroke="#0600ff" stroke-width="3.2" stroke-linejoin="miter"/>
<polygon points="647.10,808.80 664.10,808.80 655.60,793.80" fill="none" stroke="#0600ff" stroke-width="3.2" stroke-linejoin="miter"/>
<polygon points="669.70,820.40 686.70,820.40 678.20,805.40" fill="none" stroke="#0600ff" stroke-width="3.2" stroke-linejoin="miter"/>
<polygon points="716.50,822.20 733.50,822.20 725.00,807.20" fill="none" stroke="#0600ff" stroke-width="3.2" stroke-linejoin="miter"/>
<polygon points="762.70,819.50 779.70,819.50 771.20,804.50" fill="none" stroke="#0600ff" stroke-width="3.2" stroke-linejoin="miter"/>
<polygon points="446.50,882.90 463.50,882.90 455.00,897.90" fill="none" stroke="#ff1eff" stroke-width="3.2" stroke-linejoin="miter"/>
<polygon points="469.00,868.20 486.00,868.20 477.50,883.20" fill="none" stroke="#ff1eff" stroke-width="3.2" stroke-linejoin="miter"/>
<polygon points="512.50,821.60 529.50,821.60 521.00,836.60" fill="none" stroke="#ff1eff" stroke-width="3.2" stroke-linejoin="miter"/>
<polygon points="535.00,811.90 552.00,811.90 543.50,826.90" fill="none" stroke="#ff1eff" stroke-width="3.2" stroke-linejoin="miter"/>
<polygon points="556.80,806.30 573.80,806.30 565.30,821.30" fill="none" stroke="#ff1eff" stroke-width="3.2" stroke-linejoin="miter"/>
<polygon points="579.10,816.10 596.10,816.10 587.60,831.10" fill="none" stroke="#ff1eff" stroke-width="3.2" stroke-linejoin="miter"/>
<polygon points="600.40,807.20 617.40,807.20 608.90,822.20" fill="none" stroke="#ff1eff" stroke-width="3.2" stroke-linejoin="miter"/>
<polygon points="622.60,791.20 639.60,791.20 631.10,806.20" fill="none" stroke="#ff1eff" stroke-width="3.2" stroke-linejoin="miter"/>
<polygon points="644.30,800.10 661.30,800.10 652.80,815.10" fill="none" stroke="#ff1eff" stroke-width="3.2" stroke-linejoin="miter"/>
<polygon points="666.70,824.90 683.70,824.90 675.20,839.90" fill="none" stroke="#ff1eff" stroke-width="3.2" stroke-linejoin="miter"/>
<polygon points="688.40,812.50 705.40,812.50 696.90,827.50" fill="none" stroke="#ff1eff" stroke-width="3.2" stroke-linejoin="miter"/>
<polygon points="731.90,817.80 748.90,817.80 740.40,832.80" fill="none" stroke="#ff1eff" stroke-width="3.2" stroke-linejoin="miter"/>
<path d="M411.80,1061.50 C412.35,1055.87 413.42,1038.95 415.10,1027.70 C416.78,1016.45 419.45,1004.50 421.90,994.00 C424.35,983.50 426.98,974.08 429.80,964.70 C432.62,955.32 435.43,945.97 438.80,937.70 C442.17,929.43 445.87,922.23 450.00,915.10 C454.13,907.97 458.72,901.28 463.60,894.90 C468.48,888.52 473.68,882.43 479.30,876.80 C484.92,871.17 490.92,865.97 497.30,861.10 C503.68,856.23 510.47,851.92 517.60,847.60 C524.73,843.28 532.58,838.77 540.10,835.20 C547.62,831.63 555.18,828.65 562.70,826.20 C570.22,823.75 578.15,822.20 585.20,820.50 C592.25,818.80 597.35,817.42 605.00,816.00 C612.65,814.58 620.82,812.97 631.10,812.00 C641.38,811.03 651.88,810.65 666.70,810.20 C681.52,809.75 699.42,809.60 720.00,809.30 C740.58,809.00 778.50,808.55 790.20,808.40" fill="none" stroke="#000" stroke-width="2.6" stroke-linejoin="round" stroke-linecap="round" />
</g>
<rect x="411.00" y="783.20" width="379.60" height="278.30" fill="none" stroke="#000" stroke-width="3.0" stroke-linejoin="round"/>
<text x="403.80" y="1019.67" font-size="26" text-anchor="end"  >0.6</text>
<text x="403.80" y="918.57" font-size="26" text-anchor="end"  >0.8</text>
<text x="403.80" y="817.47" font-size="26" text-anchor="end"  >1.0</text>
<text x="410.50" y="1090.60" font-size="26" text-anchor="middle"  >0</text>
<text x="591.10" y="1090.60" font-size="26" text-anchor="middle"  >1</text>
<text x="771.70" y="1090.60" font-size="26" text-anchor="middle"  >2</text>
<text x="503" y="1120" font-size="44"><tspan font-style="italic">Q</tspan><tspan font-size="27" dy="8.3">g</tspan><tspan dy="-8.3" font-size="43" dx="-1"> (ml/min)</tspan></text>
<text transform="translate(353.50,989.50) rotate(-90) scale(1.1,1)" font-size="55.5" text-anchor="start" font-style="italic" >θ</text>
<text transform="translate(332.20,959.40) rotate(-90)" font-size="40.8" text-anchor="start" >*</text>
<text transform="translate(353.50,943.10) rotate(-90)" font-size="55.5" text-anchor="start" font-style="italic" >/</text>
<text transform="translate(353.50,929.10) rotate(-90) scale(1.1,1)" font-size="55.5" text-anchor="start" font-style="italic" >θ</text>
<text transform="translate(364.10,901.60) rotate(-90)" font-size="36.5" text-anchor="start" >max</text>
<rect x="124.00" y="643.00" width="681.40" height="500.90" fill="none" stroke="#000" stroke-width="3.5" stroke-linejoin="round"/>
<text x="114.20" y="1042.10" font-size="40" text-anchor="end"  >40</text>
<text x="114.20" y="887.20" font-size="40" text-anchor="end"  >60</text>
<text x="114.20" y="732.30" font-size="40" text-anchor="end"  >80</text>
<text x="124.20" y="1185.70" font-size="40" text-anchor="middle"  >0.0</text>
<text x="286.75" y="1185.70" font-size="40" text-anchor="middle"  >0.5</text>
<text x="449.30" y="1185.70" font-size="40" text-anchor="middle"  >1.0</text>
<text x="611.85" y="1185.70" font-size="40" text-anchor="middle"  >1.5</text>
<text x="774.40" y="1185.70" font-size="40" text-anchor="middle"  >2.0</text>
<text x="176.00" y="701.00" font-size="41" text-anchor="middle"  >(e)</text>
<text x="332.5" y="1243.3" font-size="61"><tspan font-style="italic">Q</tspan><tspan font-size="40" dy="9.9">g</tspan><tspan dy="-9.9"> (ml/min)</tspan></text>
<text transform="translate(51.50,981.50) rotate(-90) scale(1.22,1)" font-size="61" text-anchor="start" font-style="italic" >θ</text>
<text transform="translate(26.90,940.80) rotate(-90)" font-size="39.4" text-anchor="start" >*</text>
<text transform="translate(51.50,847.50) rotate(-90)" font-size="61" text-anchor="end" letter-spacing="-1">(°)</text>
<rect x="152.50" y="982.20" width="12.40" height="12.40" fill="none" stroke="#000" stroke-width="3.1"/>
<circle cx="158.80" cy="1023.80" r="7.20" fill="none" stroke="#ff1405" stroke-width="3.1"/>
<polygon points="150.40,1067.85 167.20,1067.85 158.80,1052.55" fill="none" stroke="#0600ff" stroke-width="3.2" stroke-linejoin="miter"/>
<polygon points="150.50,1097.75 167.30,1097.75 158.90,1113.05" fill="none" stroke="#ff1eff" stroke-width="3.2" stroke-linejoin="miter"/>
<text x="198.00" y="997.90" font-size="28.5" text-anchor="start"  >53-75 µm</text>
<text x="198.00" y="1032.80" font-size="28.5" text-anchor="start"  >75-100 µm</text>
<text x="198.00" y="1072.70" font-size="28.5" text-anchor="start"  >100-125 µm</text>
<text x="198.00" y="1112.30" font-size="28.5" text-anchor="start"  >125-150 µm</text>
</svg>
</body></html>
